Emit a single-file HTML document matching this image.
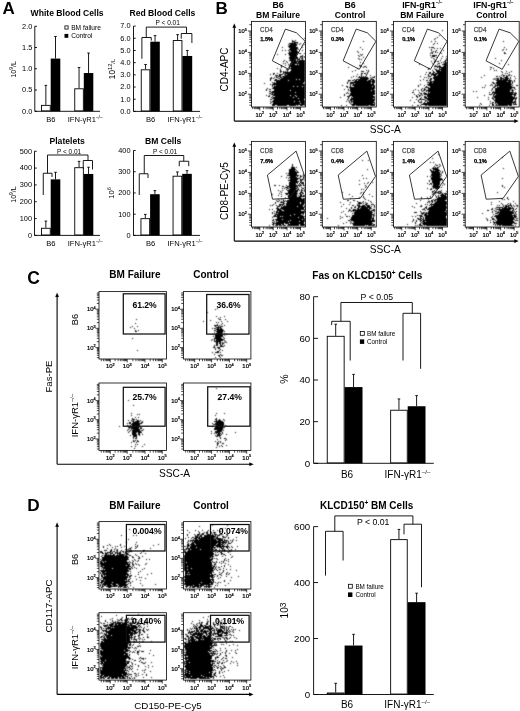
<!DOCTYPE html>
<html><head><meta charset="utf-8"><style>
html,body{margin:0;padding:0;background:#fff;width:520px;height:711px;overflow:hidden}
svg{display:block;opacity:0.999}
text{font-family:"Liberation Sans", sans-serif;fill:#000}
</style></head><body>
<svg width="520" height="711" viewBox="0 0 520 711">
<rect width="520" height="711" fill="#fff"/>
<filter id="bl" filterUnits="userSpaceOnUse" x="0" y="0" width="520" height="711"><feConvolveMatrix order="3" kernelMatrix="0.04 0.11 0.04 0.11 0.4 0.11 0.04 0.11 0.04" preserveAlpha="false"/></filter><path d="M304 38h1M292 40h1M295 40h1M292 41h3M292 42h1M294 42h4M289 43h7M297 43h1M300 43h1M288 44h1M290 44h7M299 44h1M304 44h1M289 45h8M302 45h1M288 46h8M282 47h1M289 47h9M302 47h1M290 48h8M289 49h8M298 49h1M282 50h1M285 50h1M288 50h1M290 50h7M302 50h1M289 51h1M291 51h7M289 52h9M288 53h10M299 53h2M304 53h1M277 54h1M285 54h1M289 54h8M289 55h8M302 55h1M290 56h7M300 56h3M304 56h1M289 57h9M300 57h1M302 57h1M304 57h1M289 58h9M299 58h1M301 58h2M290 59h6M297 59h3M302 59h1M284 60h1M289 60h7M297 60h1M299 60h6M283 61h1M286 61h1M291 61h14M287 62h1M291 62h6M298 62h7M283 63h1M285 63h1M290 63h15M288 64h1M290 64h5M297 64h1M299 64h6M281 65h1M285 65h1M289 65h16M281 66h1M289 66h16M281 67h1M288 67h1M291 67h14M277 68h1M289 68h16M280 69h1M286 69h3M291 69h14M280 70h1M287 70h1M291 70h14M280 71h2M283 71h1M285 71h1M287 71h1M290 71h15M280 72h1M283 72h22M273 73h2M277 73h1M283 73h1M285 73h20M270 74h1M273 74h1M279 74h4M284 74h2M287 74h18M275 75h3M279 75h2M285 75h20M276 76h1M278 76h3M282 76h23M271 77h1M274 77h1M276 77h2M280 77h2M283 77h22M270 78h2M273 78h1M278 78h2M281 78h24M270 79h1M275 79h2M280 79h16M297 79h2M300 79h5M270 80h1M274 80h14M289 80h16M276 81h29M272 82h1M274 82h1M276 82h28M264 83h1M273 83h30M304 83h1M270 84h1M272 84h33M272 85h1M274 85h1M276 85h29M272 86h1M274 86h19M294 86h3M298 86h4M303 86h2M273 87h32M267 88h1M272 88h33M266 89h1M269 89h2M274 89h31M266 90h1M274 90h16M291 90h14M269 91h2M272 91h33M271 92h24M296 92h9M269 93h2M272 93h1M274 93h31M271 94h34M266 95h1M269 95h1M273 95h17M291 95h4M296 95h9M268 96h2M272 96h1M275 96h21M297 96h8M271 97h1M273 97h20M294 97h11M272 98h26M299 98h6M270 99h2M274 99h30M273 100h32M270 101h1M272 101h22M295 101h4M300 101h5M271 102h1M273 102h32M270 103h1M273 103h27M301 103h4M272 104h33M272 105h3M277 105h10M289 105h7M297 105h1M300 105h3M304 105h1M363 41h1M360 47h1M362 49h1M357 51h1M358 52h1M360 54h1M362 54h1M358 55h1M361 55h1M359 56h1M363 57h1M358 58h1M359 59h1M361 59h1M360 62h1M363 63h1M359 65h2M360 66h2M364 66h2M348 67h1M363 67h1M366 67h1M357 68h1M355 70h1M366 70h1M368 70h1M352 71h1M361 71h3M368 71h1M367 72h1M361 73h2M364 73h2M367 73h1M357 74h1M361 74h1M366 74h1M361 75h1M366 75h1M370 75h1M353 76h1M356 76h1M359 76h1M361 76h1M363 76h1M365 76h1M374 76h1M351 77h1M358 77h10M370 77h1M372 77h3M360 78h9M371 78h1M354 79h1M356 79h12M370 79h4M348 80h3M352 80h2M355 80h2M358 80h9M368 80h3M372 80h3M348 81h1M354 81h21M347 82h1M350 82h21M372 82h3M347 83h1M350 83h4M355 83h16M372 83h2M350 84h1M353 84h21M342 85h1M350 85h1M352 85h23M346 86h2M350 86h1M354 86h18M373 86h2M347 87h1M349 87h26M350 88h25M344 89h1M348 89h1M350 89h24M348 90h1M350 90h21M372 90h3M350 91h25M347 92h1M351 92h24M346 93h1M348 93h1M350 93h25M344 94h1M350 94h25M344 95h1M349 95h24M347 96h3M352 96h23M340 97h1M348 97h1M351 97h1M353 97h22M348 98h1M351 98h22M374 98h1M347 99h1M350 99h25M348 100h1M350 100h2M353 100h22M346 101h1M349 101h1M351 101h23M349 102h1M351 102h1M353 102h22M350 103h1M353 103h20M374 103h1M351 104h24M341 105h1M346 105h1M352 105h3M356 105h13M370 105h5M442 30h1M439 35h1M437 37h1M435 38h1M434 39h1M431 41h1M435 41h1M434 43h1M437 43h1M433 44h1M429 47h1M431 47h3M434 48h1M437 48h1M440 48h1M431 49h1M431 50h1M436 50h1M443 50h1M433 51h1M435 51h1M431 52h2M435 52h1M437 52h1M440 52h1M430 53h1M432 53h1M441 53h1M430 55h1M432 55h5M432 56h3M442 56h1M446 56h1M431 57h1M436 57h1M433 58h1M441 58h1M446 58h1M434 59h1M446 59h1M435 60h1M440 60h1M445 60h2M431 61h1M434 61h2M437 61h2M444 61h2M434 62h1M441 62h1M443 62h1M445 62h2M432 63h1M438 63h2M444 63h3M419 64h1M433 64h1M437 64h1M442 64h5M435 65h1M439 65h1M444 65h3M434 66h7M443 66h4M437 67h1M439 67h8M428 68h2M434 68h1M439 68h1M441 68h6M428 69h1M435 69h2M439 69h8M432 70h1M436 70h4M441 70h6M433 71h1M436 71h11M426 72h1M429 72h2M433 72h2M437 72h10M429 73h2M432 73h2M435 73h12M425 74h1M428 74h1M431 74h6M438 74h9M428 75h1M431 75h1M433 75h3M437 75h10M420 76h1M428 76h3M434 76h13M424 77h1M426 77h1M433 77h14M428 78h1M430 78h2M433 78h14M423 79h1M430 79h2M434 79h13M420 80h1M426 80h2M429 80h2M434 80h13M430 81h17M427 82h5M433 82h14M429 83h18M420 84h1M427 84h20M418 85h1M424 85h1M428 85h19M418 86h1M426 86h1M430 86h17M425 87h4M430 87h17M422 88h1M424 88h1M428 88h19M415 89h1M421 89h1M424 89h2M428 89h19M413 90h1M418 90h1M421 90h1M423 90h2M426 90h21M422 91h1M426 91h1M428 91h19M412 92h2M419 92h1M424 92h1M428 92h1M430 92h17M420 93h2M423 93h4M428 93h19M414 94h1M418 94h1M421 94h1M424 94h23M416 95h1M419 95h2M422 95h1M427 95h20M416 96h2M419 96h1M424 96h2M427 96h20M412 97h1M417 97h1M421 97h1M424 97h3M428 97h19M420 98h1M425 98h22M416 99h1M419 99h6M427 99h20M410 100h1M418 100h1M425 100h2M428 100h19M418 101h1M421 101h1M425 101h1M427 101h1M429 101h18M414 102h1M419 102h3M424 102h1M427 102h20M423 103h24M421 104h26M412 105h1M417 105h2M420 105h1M425 105h2M428 105h19M503 41h1M504 47h1M503 49h1M506 49h1M502 50h1M504 52h1M504 53h2M495 58h1M501 60h1M499 63h1M508 64h1M490 67h2M493 68h1M490 69h1M494 70h1M496 70h1M501 71h1M506 71h1M511 71h1M502 72h1M509 72h1M505 73h1M507 73h1M502 74h1M509 74h1M484 75h1M501 75h1M503 75h2M506 75h1M508 75h2M511 75h1M496 76h2M499 76h1M503 76h1M506 76h2M514 76h1M481 77h1M500 77h2M504 77h4M510 77h1M494 78h1M496 78h3M500 78h4M505 78h4M510 78h1M515 78h1M493 79h1M495 79h1M497 79h2M500 79h2M503 79h5M509 79h1M496 80h16M514 80h1M497 81h10M508 81h3M512 81h1M514 81h1M492 82h2M496 82h15M512 82h1M493 83h2M496 83h15M512 83h1M491 84h1M495 84h1M497 84h15M485 85h1M490 85h1M492 85h1M495 85h16M512 85h1M516 85h2M494 86h2M497 86h1M499 86h13M482 87h1M484 87h1M493 87h2M497 87h18M492 88h1M495 88h17M514 88h1M492 89h1M495 89h16M512 89h1M515 89h1M491 90h1M495 90h15M511 90h3M473 91h1M476 91h1M493 91h1M495 91h15M512 91h1M489 92h1M492 92h22M515 92h1M492 93h1M494 93h19M514 93h3M489 94h3M493 94h2M496 94h20M484 95h1M493 95h1M495 95h17M514 95h2M493 96h20M514 96h1M477 97h1M488 97h1M492 97h1M494 97h21M516 97h1M492 98h2M495 98h22M488 99h1M493 99h1M495 99h19M515 99h1M494 100h19M515 100h1M490 101h1M495 101h18M514 101h2M492 102h2M495 102h21M480 103h1M490 103h1M492 103h1M495 103h1M497 103h15M513 103h1M515 103h1M481 104h1M492 104h2M496 104h1M498 104h14M513 104h4M479 105h1M489 105h1M492 105h2M495 105h13M509 105h3M292 164h1M292 165h1M292 166h1M291 167h4M296 167h1M291 168h4M289 169h7M289 170h6M296 170h1M289 171h7M297 171h1M289 172h10M286 173h1M288 173h9M289 174h8M303 174h1M287 175h12M300 175h1M303 175h1M281 176h1M290 176h6M297 176h1M300 176h2M303 176h1M286 177h1M289 177h8M300 177h1M303 177h1M288 178h1M290 178h10M304 178h1M290 179h8M300 179h2M303 179h1M288 180h9M300 180h2M304 180h1M290 181h9M300 181h1M289 182h9M301 182h3M289 183h7M297 183h1M301 183h3M289 184h7M300 184h1M303 184h1M274 185h2M279 185h1M286 185h1M289 185h9M299 185h3M303 185h2M282 186h2M287 186h10M299 186h1M285 187h3M289 187h7M297 187h1M301 187h1M304 187h1M282 188h1M284 188h1M287 188h2M290 188h7M298 188h1M302 188h2M286 189h1M289 189h7M297 189h2M301 189h1M304 189h1M278 190h1M282 190h1M287 190h11M299 190h1M301 190h2M304 190h1M280 191h1M288 191h10M301 191h1M304 191h1M281 192h1M288 192h9M300 192h3M279 193h1M285 193h13M299 193h2M302 193h2M272 194h1M281 194h1M286 194h2M289 194h8M300 194h2M278 195h1M288 195h9M298 195h1M300 195h2M303 195h2M281 196h1M288 196h9M299 196h6M285 197h1M288 197h13M288 198h14M303 198h2M278 199h1M281 199h1M283 199h1M289 199h16M276 200h1M279 200h1M283 200h1M285 200h1M287 200h18M277 201h2M281 201h1M283 201h2M286 201h19M275 202h1M280 202h4M287 202h13M301 202h4M275 203h1M283 203h2M286 203h14M301 203h4M273 204h1M279 204h5M286 204h18M270 205h1M272 205h1M276 205h1M279 205h2M282 205h1M284 205h1M286 205h17M304 205h1M277 206h3M281 206h1M283 206h14M298 206h5M304 206h1M277 207h1M281 207h24M276 208h3M280 208h24M269 209h1M272 209h1M277 209h4M282 209h23M277 210h5M284 210h17M304 210h1M274 211h1M276 211h2M279 211h26M272 212h1M276 212h29M272 213h1M274 213h1M276 213h1M278 213h26M275 214h19M295 214h6M303 214h1M274 215h2M277 215h13M291 215h12M273 216h7M281 216h1M283 216h22M272 217h1M277 217h21M299 217h5M277 218h28M273 219h1M275 219h7M283 219h19M303 219h2M272 220h2M276 220h14M291 220h14M274 221h1M276 221h1M278 221h10M289 221h10M300 221h5M272 222h2M276 222h28M273 223h11M285 223h4M290 223h14M272 224h2M276 224h5M282 224h2M288 224h11M300 224h5M269 225h1M273 225h1M275 225h3M279 225h3M283 225h3M287 225h12M300 225h5M362 160h1M368 160h1M367 169h1M362 175h1M363 178h1M366 178h1M359 180h1M368 182h1M372 182h1M364 183h1M367 183h1M359 184h1M365 185h1M366 186h1M365 187h1M361 189h1M363 189h1M342 192h1M361 192h1M363 192h1M360 193h1M349 194h1M363 194h1M369 194h1M352 196h1M363 196h1M372 196h1M359 197h1M363 197h1M350 198h1M364 198h1M365 199h1M347 200h2M353 200h2M368 200h1M357 201h1M363 201h1M370 201h1M340 202h1M350 202h1M358 202h3M362 202h1M365 202h1M371 202h1M358 203h4M363 203h1M366 203h2M343 204h1M349 204h1M357 204h1M359 204h1M365 204h2M371 204h3M352 205h2M357 205h3M362 205h3M366 205h4M374 205h1M341 206h1M355 206h1M358 206h8M367 206h3M371 206h1M374 206h1M351 207h1M354 207h2M358 207h2M361 207h10M374 207h1M346 208h1M351 208h1M357 208h2M360 208h8M369 208h3M349 209h1M353 209h3M357 209h13M373 209h2M349 210h2M352 210h18M371 210h4M343 211h1M348 211h1M351 211h1M353 211h1M355 211h17M374 211h1M341 212h1M354 212h19M352 213h1M354 213h18M374 213h1M345 214h1M354 214h20M352 215h20M373 215h2M340 216h1M346 216h2M349 216h1M352 216h20M373 216h1M342 217h1M351 217h21M373 217h1M327 218h1M340 218h1M351 218h23M350 219h21M372 219h2M348 220h2M351 220h24M350 221h1M353 221h22M346 222h1M351 222h1M354 222h18M343 223h1M350 223h1M352 223h21M353 224h19M373 224h2M338 225h1M353 225h12M366 225h1M368 225h7M438 154h1M432 158h1M430 162h1M433 162h1M435 164h1M439 164h1M436 165h2M440 165h1M434 166h1M439 166h1M433 167h1M435 167h1M437 167h2M432 168h6M430 169h1M433 169h6M430 170h2M433 170h1M435 170h5M431 171h8M440 171h1M442 171h1M431 172h9M442 172h1M432 173h8M441 173h1M431 174h10M431 175h9M441 175h1M427 176h1M430 176h1M432 176h9M431 177h9M431 178h11M431 179h12M429 180h1M432 180h9M442 180h1M429 181h1M432 181h8M432 182h8M442 182h1M427 183h1M430 183h2M433 183h7M443 183h1M429 184h1M431 184h1M433 184h7M444 184h1M433 185h6M442 185h1M432 186h8M433 187h7M441 187h1M427 188h1M431 188h1M433 188h1M435 188h4M430 189h2M436 189h1M434 190h1M441 190h1M432 191h2M435 191h1M438 191h3M446 191h1M432 192h1M434 192h5M440 192h2M433 193h1M435 193h1M438 193h3M442 193h1M444 193h3M432 194h2M441 194h3M445 194h2M435 195h1M438 195h1M440 195h6M430 196h1M436 196h1M438 196h1M441 196h6M421 197h1M427 197h1M430 197h1M436 197h1M438 197h9M421 198h1M437 198h10M428 199h1M433 199h1M435 199h12M420 200h1M431 200h2M434 200h2M437 200h8M428 201h2M431 201h2M434 201h1M436 201h11M427 202h1M429 202h1M432 202h1M435 202h12M416 203h1M431 203h1M434 203h13M425 204h1M427 204h1M430 204h17M421 205h1M429 205h1M431 205h1M433 205h13M412 206h1M420 206h2M426 206h1M431 206h16M414 207h1M425 207h2M429 207h18M424 208h1M426 208h1M428 208h19M422 209h3M427 209h19M425 210h1M429 210h18M420 211h1M428 211h17M446 211h1M414 212h3M421 212h1M423 212h2M426 212h1M428 212h19M421 213h3M425 213h22M422 214h1M424 214h3M428 214h19M417 215h1M419 215h3M424 215h23M412 216h1M415 216h1M420 216h3M425 216h21M420 217h1M423 217h1M425 217h21M417 218h2M420 218h2M423 218h1M425 218h22M413 219h1M418 219h3M422 219h2M425 219h22M413 220h1M416 220h1M420 220h2M423 220h24M412 221h1M416 221h1M420 221h1M422 221h3M426 221h21M415 222h1M421 222h1M423 222h24M415 223h1M420 223h1M422 223h25M407 224h1M419 224h2M423 224h24M415 225h1M417 225h1M419 225h4M424 225h1M426 225h21M502 157h1M503 168h1M502 178h1M502 185h1M502 186h1M504 187h1M497 192h1M507 197h1M501 198h1M507 198h1M502 199h1M504 199h1M508 199h1M499 201h1M513 201h1M491 202h1M501 203h1M508 203h1M510 203h1M515 203h1M491 204h1M502 204h1M507 204h1M510 204h1M497 205h1M499 205h1M503 205h1M505 205h2M508 205h4M513 205h1M516 205h2M503 206h1M505 206h4M511 206h1M514 206h1M517 206h1M496 207h7M504 207h3M508 207h3M512 207h1M492 208h1M495 208h1M499 208h1M502 208h12M516 208h1M491 209h2M496 209h15M513 209h1M515 209h1M487 210h2M494 210h1M499 210h11M512 210h2M492 211h1M495 211h2M498 211h1M500 211h13M514 211h1M516 211h1M492 212h1M497 212h17M515 212h1M482 213h1M495 213h3M499 213h15M515 213h1M493 214h1M498 214h14M514 214h1M516 214h1M495 215h21M492 216h1M494 216h19M514 216h3M491 217h1M496 217h20M486 218h1M492 218h2M496 218h18M516 218h2M487 219h1M492 219h3M497 219h18M487 220h1M490 220h1M495 220h1M497 220h16M515 220h3M493 221h1M496 221h18M490 222h1M493 222h22M494 223h1M496 223h17M514 223h3M493 224h1M495 224h1M497 224h15M495 225h1M497 225h1M499 225h2M502 225h12M515 225h1M136 319h1M135 323h1M132 326h1M137 326h1M130 327h1M134 328h1M135 330h1M138 330h1M135 331h2M132 338h1M137 350h1M217 308h1M215 309h1M207 312h1M216 316h1M224 316h1M220 317h1M218 318h1M219 319h2M225 319h1M210 320h1M203 321h1M221 321h1M227 321h1M216 322h1M218 322h1M222 323h1M217 324h1M221 324h1M214 325h4M219 325h1M224 325h1M215 326h1M218 326h1M220 326h3M216 327h5M212 328h1M214 328h2M217 328h2M220 328h2M216 329h7M214 330h2M217 330h7M216 331h7M224 331h1M214 332h1M217 332h6M216 333h6M224 333h1M213 334h1M215 334h8M226 334h1M215 335h8M224 335h1M213 336h1M215 336h8M215 337h6M223 337h1M214 338h8M224 338h1M212 339h1M214 339h1M216 339h8M211 340h1M214 340h1M216 340h7M224 340h1M214 341h7M225 341h1M216 342h2M219 342h2M222 342h1M224 342h1M226 342h1M216 343h2M219 343h2M222 343h2M216 344h2M220 344h1M222 344h1M214 345h1M216 345h2M220 345h2M224 345h1M214 346h1M220 346h4M213 347h2M217 347h3M215 348h1M218 348h2M215 349h1M220 349h1M219 350h1M222 350h1M217 351h2M212 352h1M215 352h4M220 352h1M214 354h1M220 354h1M218 355h2M221 355h2M219 356h1M215 357h1M220 357h1M128 400h1M133 405h1M131 413h1M137 414h1M139 414h1M131 415h1M135 417h1M138 417h1M132 418h1M132 419h3M136 419h1M128 420h1M131 420h1M133 420h1M137 420h2M140 420h1M132 421h2M135 421h5M142 421h1M129 422h2M133 422h6M141 422h2M127 423h1M129 423h2M132 423h10M131 424h9M127 425h1M130 425h1M132 425h8M119 426h1M128 426h1M130 426h1M132 426h8M128 427h11M140 427h2M129 428h1M131 428h8M140 428h2M128 429h1M131 429h1M133 429h7M143 429h1M127 430h1M130 430h1M132 430h8M141 430h2M129 431h1M132 431h9M128 432h1M132 432h5M138 432h4M132 433h4M138 433h2M132 434h5M138 434h2M142 434h1M130 435h1M133 435h4M139 435h1M133 436h4M133 437h1M136 437h1M133 438h1M135 438h2M133 440h1M135 440h1M137 440h1M133 441h2M137 441h2M131 442h1M136 442h1M135 444h1M137 444h1M144 444h1M131 446h1M135 446h1M142 446h1M134 448h1M216 388h1M219 398h1M218 399h1M216 413h1M224 413h1M215 415h1M216 418h1M215 419h2M219 419h1M223 419h1M216 420h1M218 420h3M224 420h1M214 421h9M216 422h8M212 423h1M215 423h9M213 424h11M216 425h8M225 425h1M212 426h1M215 426h8M215 427h10M214 428h9M214 429h9M217 430h5M223 430h1M211 431h1M215 431h7M215 432h5M222 432h1M235 432h1M211 433h1M214 433h1M216 433h1M218 433h3M222 433h1M217 434h3M221 434h1M226 434h1M215 435h1M217 435h4M216 436h2M219 436h1M220 437h1M220 438h1M224 438h2M217 439h1M226 439h1M225 440h1M215 441h1M218 441h1M220 441h1M217 442h1M220 442h1M217 443h2M222 443h2M217 444h1M217 445h1M221 445h1M226 445h1M219 446h1M222 446h1M216 447h1M129 529h1M139 532h1M154 533h1M121 535h1M133 535h1M136 535h1M128 539h1M126 542h1M136 542h1M109 544h1M120 544h1M135 544h1M158 544h1M107 545h1M110 545h1M120 545h1M137 545h1M153 545h1M103 546h1M115 546h1M117 546h1M124 546h1M135 546h1M137 546h1M103 547h1M112 547h1M121 547h1M131 547h1M136 547h1M107 548h1M115 548h1M129 548h2M135 548h1M150 548h1M111 549h1M114 549h1M117 549h1M125 549h1M127 549h2M130 549h1M104 550h3M110 550h2M116 550h2M121 550h1M129 550h1M131 550h1M143 550h2M100 551h2M110 551h2M113 551h2M117 551h1M120 551h1M122 551h2M125 551h3M129 551h3M143 551h1M100 552h3M105 552h1M107 552h4M112 552h1M115 552h3M119 552h2M123 552h1M125 552h2M128 552h1M141 552h1M102 553h2M105 553h3M110 553h3M115 553h1M117 553h4M125 553h3M140 553h1M145 553h1M105 554h2M108 554h1M110 554h1M113 554h2M117 554h1M119 554h6M126 554h3M135 554h1M102 555h1M104 555h11M116 555h8M125 555h2M129 555h2M136 555h1M101 556h1M104 556h24M132 556h1M138 556h1M142 556h1M102 557h27M132 557h2M139 557h1M102 558h26M138 558h2M100 559h1M102 559h27M134 559h1M146 559h1M149 559h1M101 560h26M132 560h1M135 560h1M138 560h1M100 561h2M103 561h2M106 561h21M129 561h1M133 561h1M137 561h1M100 562h3M104 562h25M130 562h1M132 562h1M100 563h28M129 563h1M132 563h1M135 563h1M146 563h1M100 564h30M132 564h2M136 564h1M138 564h1M145 564h1M101 565h25M127 565h3M133 565h1M139 565h1M100 566h3M104 566h27M132 566h1M102 567h27M131 567h1M134 567h1M101 568h1M103 568h9M113 568h18M132 568h1M136 568h1M144 568h1M103 569h1M105 569h23M129 569h2M142 569h1M100 570h29M101 571h28M130 571h1M140 571h1M100 572h1M102 572h3M106 572h21M138 572h1M100 573h1M102 573h26M130 573h1M151 573h1M101 574h1M103 574h26M138 574h1M147 574h1M101 575h2M104 575h1M106 575h20M127 575h2M130 575h2M101 576h2M104 576h24M129 576h2M135 576h1M102 577h26M129 577h1M139 577h1M141 577h1M101 578h1M103 578h24M130 578h1M145 578h1M100 579h1M103 579h24M128 579h2M136 579h1M101 580h3M105 580h20M126 580h1M128 580h1M140 580h1M101 581h29M132 581h1M100 582h3M104 582h8M113 582h14M130 582h1M101 583h1M103 583h23M128 583h1M130 583h1M140 583h1M100 584h1M102 584h9M112 584h4M118 584h10M155 584h1M100 585h1M102 585h1M104 585h2M107 585h5M113 585h5M119 585h8M130 585h1M142 585h1M100 586h1M102 586h2M106 586h11M118 586h5M124 586h2M127 586h1M101 587h2M108 587h3M118 587h1M120 587h1M123 587h4M128 587h1M133 587h1M212 525h1M227 525h1M199 526h1M222 528h1M225 528h1M222 529h1M187 530h1M195 530h1M202 530h1M208 530h1M213 530h1M217 530h1M198 531h1M207 531h1M219 531h2M222 531h1M232 531h1M189 532h1M199 532h1M204 532h1M206 532h2M210 532h2M213 532h3M199 533h1M202 533h2M206 533h2M211 533h1M214 533h1M187 534h1M194 534h1M197 534h3M201 534h3M207 534h3M212 534h1M214 534h3M219 534h4M226 534h2M187 535h1M195 535h1M197 535h2M200 535h2M204 535h10M215 535h1M217 535h3M227 535h1M195 536h3M199 536h3M204 536h12M217 536h1M222 536h2M226 536h1M188 537h1M192 537h2M195 537h5M201 537h14M216 537h2M223 537h3M228 537h1M236 537h1M185 538h1M191 538h1M194 538h3M198 538h16M215 538h6M222 538h1M228 538h1M193 539h1M195 539h3M199 539h17M217 539h6M224 539h1M233 539h1M188 540h1M190 540h27M218 540h5M224 540h4M230 540h1M232 540h1M236 540h1M188 541h1M190 541h1M192 541h1M194 541h27M222 541h3M226 541h1M228 541h1M232 541h1M187 542h1M192 542h35M228 542h1M231 542h1M188 543h1M191 543h3M195 543h22M218 543h3M222 543h2M225 543h1M228 543h3M187 544h2M190 544h5M196 544h20M217 544h6M224 544h1M227 544h1M187 545h3M191 545h30M222 545h2M227 545h1M184 546h2M187 546h2M190 546h24M216 546h13M231 546h1M237 546h1M187 547h1M190 547h6M197 547h19M217 547h1M219 547h3M223 547h1M226 547h2M229 547h1M232 547h1M186 548h27M214 548h1M221 548h3M227 548h1M184 549h3M188 549h2M191 549h9M201 549h13M215 549h2M219 549h1M222 549h1M224 549h1M228 549h1M231 549h1M235 549h1M184 550h1M188 550h25M214 550h3M219 550h1M222 550h4M229 550h1M231 550h1M184 551h2M187 551h27M218 551h2M221 551h1M224 551h1M227 551h1M229 551h2M184 552h29M215 552h1M217 552h1M220 552h2M228 552h1M185 553h29M221 553h2M185 554h29M215 554h1M218 554h1M221 554h1M223 554h2M230 554h1M184 555h29M215 555h3M225 555h1M184 556h30M222 556h1M232 556h1M184 557h27M212 557h1M231 557h1M184 558h26M211 558h2M214 558h1M216 558h1M225 558h1M184 559h29M217 559h1M224 559h1M228 559h1M184 560h28M224 560h1M226 560h1M184 561h27M212 561h1M216 561h1M221 561h1M223 561h1M228 561h1M184 562h2M187 562h25M213 562h2M216 562h1M219 562h1M223 562h1M184 563h28M215 563h1M221 563h1M225 563h1M184 564h28M214 564h2M228 564h1M184 565h29M214 565h1M224 565h1M184 566h3M188 566h24M213 566h2M216 566h1M221 566h1M224 566h1M230 566h1M184 567h30M215 567h1M218 567h2M184 568h7M192 568h22M215 568h1M223 568h1M184 569h3M188 569h25M214 569h1M216 569h1M219 569h2M226 569h1M230 569h1M184 570h30M217 570h1M223 570h1M236 570h1M185 571h28M223 571h1M185 572h3M189 572h23M213 572h1M219 572h1M222 572h1M227 572h1M185 573h27M221 573h1M226 573h1M229 573h1M185 574h2M188 574h1M190 574h20M211 574h2M214 574h2M219 574h2M226 574h1M228 574h1M185 575h29M217 575h1M221 575h1M184 576h29M214 576h1M217 576h1M226 576h1M238 576h1M184 577h26M211 577h3M220 577h1M231 577h1M185 578h25M212 578h1M218 578h1M184 579h30M184 580h27M212 580h2M224 580h1M230 580h1M184 581h28M213 581h1M224 581h1M185 582h16M202 582h12M215 582h1M218 582h1M220 582h1M184 583h26M211 583h2M217 583h1M228 583h1M184 584h15M200 584h13M186 585h7M194 585h10M206 585h1M208 585h2M215 585h1M217 585h1M225 585h1M185 586h3M190 586h1M192 586h7M200 586h2M204 586h8M186 587h1M189 587h2M192 587h3M197 587h4M204 587h1M206 587h1M208 587h2M214 587h1M138 614h1M116 615h1M142 615h1M101 616h1M122 617h1M132 617h1M112 618h1M121 618h1M127 618h2M131 618h1M149 618h1M110 619h1M117 619h1M120 619h2M125 619h3M129 619h1M131 619h3M135 619h2M105 620h1M112 620h1M118 620h2M121 620h2M124 620h4M139 620h1M141 620h1M145 620h1M105 621h1M112 621h1M115 621h1M117 621h1M125 621h2M128 621h1M132 621h2M138 621h1M140 621h1M145 621h1M100 622h1M107 622h1M110 622h1M113 622h3M117 622h6M124 622h5M130 622h1M132 622h3M136 622h1M138 622h1M144 622h1M147 622h1M101 623h1M103 623h2M111 623h3M115 623h6M122 623h5M129 623h4M137 623h3M144 623h1M107 624h1M109 624h5M115 624h2M118 624h11M130 624h2M136 624h2M140 624h1M143 624h2M147 624h1M103 625h5M109 625h4M114 625h13M128 625h8M138 625h2M100 626h1M104 626h3M108 626h1M110 626h20M131 626h6M138 626h1M140 626h1M147 626h1M100 627h2M107 627h4M112 627h1M114 627h24M139 627h1M141 627h1M144 627h1M101 628h1M103 628h1M105 628h32M143 628h1M101 629h1M106 629h1M108 629h1M110 629h24M136 629h5M143 629h1M146 629h1M148 629h1M102 630h5M109 630h28M139 630h2M142 630h2M147 630h1M103 631h1M105 631h26M132 631h4M138 631h2M143 631h2M101 632h1M106 632h27M134 632h4M139 632h2M144 632h1M100 633h1M102 633h1M104 633h1M106 633h1M108 633h29M139 633h1M104 634h3M108 634h21M130 634h3M134 634h1M139 634h1M141 634h2M147 634h1M103 635h1M105 635h6M112 635h21M138 635h2M101 636h2M104 636h1M106 636h24M131 636h1M134 636h2M138 636h1M147 636h1M100 637h2M103 637h2M106 637h27M134 637h1M139 637h1M143 637h1M147 637h2M104 638h2M107 638h23M131 638h1M134 638h1M138 638h1M140 638h1M101 639h29M131 639h1M133 639h4M139 639h1M142 639h1M144 639h1M103 640h27M136 640h1M101 641h2M104 641h27M133 641h2M136 641h1M139 641h1M142 641h2M151 641h1M101 642h30M134 642h1M100 643h29M130 643h1M139 643h1M100 644h28M129 644h2M133 644h1M100 645h28M129 645h2M132 645h1M139 645h1M100 646h28M137 646h2M140 646h1M101 647h30M132 647h1M135 647h1M100 648h27M128 648h2M134 648h1M136 648h1M102 649h26M100 650h2M103 650h21M125 650h5M135 650h1M139 650h1M150 650h1M100 651h28M130 651h1M133 651h1M137 651h2M141 651h3M100 652h26M129 652h1M132 652h1M134 652h1M137 652h2M100 653h28M137 653h1M149 653h1M100 654h24M125 654h3M129 654h1M138 654h1M101 655h27M129 655h1M153 655h1M100 656h1M102 656h27M100 657h30M140 657h1M100 658h27M128 658h3M139 658h1M141 658h3M145 658h1M100 659h26M129 659h1M132 659h1M143 659h1M101 660h4M106 660h20M134 660h2M140 660h1M100 661h30M139 661h1M101 662h2M104 662h22M127 662h2M131 662h1M141 662h2M145 662h1M151 662h1M100 663h29M132 663h1M143 663h2M101 664h1M103 664h24M132 664h1M135 664h1M102 665h25M130 665h1M138 665h1M148 665h1M103 666h23M127 666h1M129 666h1M131 666h2M138 666h1M145 666h1M152 666h1M100 667h25M126 667h1M128 667h2M148 667h1M100 668h1M102 668h24M127 668h1M130 668h1M132 668h1M100 669h1M102 669h22M125 669h1M129 669h1M131 669h1M137 669h1M145 669h1M100 670h28M142 670h1M144 670h1M100 671h25M128 671h1M132 671h1M150 671h1M100 672h27M144 672h1M100 673h27M128 673h1M134 673h2M138 673h1M101 674h21M123 674h5M129 674h3M136 674h1M142 674h1M146 674h1M100 675h3M104 675h22M128 675h1M135 675h1M138 675h1M146 675h1M100 676h2M103 676h5M109 676h15M125 676h3M131 676h1M136 676h1M100 677h4M105 677h1M108 677h2M111 677h7M119 677h2M122 677h3M127 677h1M129 677h1M134 677h1M143 677h1M151 677h1M100 678h2M103 678h2M107 678h3M111 678h3M115 678h3M119 678h7M127 678h1M129 678h2M132 678h1M134 678h1M208 616h1M203 617h1M207 619h1M217 619h1M233 619h1M199 620h1M221 620h1M224 620h1M228 620h1M236 620h1M192 621h1M207 621h2M217 621h1M219 621h1M229 621h1M199 622h1M201 622h2M207 622h1M213 622h1M220 622h2M223 622h1M191 623h1M197 623h1M199 623h1M201 623h1M206 623h2M213 623h1M218 623h1M221 623h1M224 623h1M226 623h1M233 623h1M193 624h1M196 624h1M200 624h2M206 624h2M213 624h3M217 624h2M220 624h1M222 624h1M224 624h1M194 625h1M197 625h1M200 625h3M204 625h2M209 625h1M214 625h1M217 625h1M220 625h1M193 626h1M195 626h2M199 626h5M205 626h7M214 626h1M220 626h5M226 626h1M229 626h2M194 627h1M196 627h1M198 627h3M203 627h6M210 627h1M212 627h1M215 627h1M220 627h3M224 627h1M226 627h1M228 627h1M232 627h1M190 628h1M192 628h1M194 628h4M199 628h2M203 628h11M216 628h2M220 628h1M222 628h3M226 628h1M228 628h1M187 629h1M191 629h1M196 629h2M199 629h1M201 629h3M208 629h4M214 629h1M216 629h1M218 629h4M224 629h1M226 629h1M228 629h1M231 629h1M233 629h1M235 629h1M187 630h1M189 630h1M194 630h1M196 630h3M200 630h3M204 630h2M207 630h1M209 630h2M212 630h3M216 630h7M224 630h1M226 630h2M229 630h1M233 630h1M239 630h1M189 631h1M191 631h4M196 631h3M200 631h9M210 631h2M214 631h1M217 631h7M226 631h1M228 631h1M230 631h1M232 631h1M188 632h5M195 632h2M198 632h2M201 632h1M203 632h4M209 632h3M214 632h1M217 632h4M222 632h6M229 632h1M233 632h1M188 633h1M190 633h1M193 633h11M205 633h2M208 633h4M213 633h6M221 633h2M224 633h4M185 634h2M190 634h13M206 634h2M209 634h2M212 634h2M215 634h1M217 634h5M226 634h1M229 634h2M187 635h1M192 635h3M197 635h5M203 635h2M206 635h1M208 635h4M213 635h1M218 635h5M224 635h4M231 635h1M233 635h1M186 636h3M190 636h3M194 636h4M199 636h7M207 636h4M215 636h7M188 637h1M190 637h4M195 637h7M203 637h8M212 637h1M222 637h2M225 637h2M230 637h1M234 637h1M184 638h2M188 638h2M191 638h3M196 638h16M213 638h3M217 638h4M224 638h1M226 638h2M229 638h1M236 638h1M185 639h2M188 639h1M190 639h6M198 639h3M202 639h1M204 639h7M212 639h1M214 639h2M217 639h1M220 639h1M224 639h1M227 639h1M188 640h7M196 640h1M198 640h16M218 640h1M225 640h1M186 641h1M188 641h2M191 641h21M225 641h2M230 641h1M232 641h1M184 642h2M188 642h26M216 642h1M220 642h1M222 642h1M184 643h29M214 643h2M226 643h1M185 644h27M214 644h1M216 644h1M221 644h1M223 644h1M233 644h1M184 645h33M229 645h1M237 645h1M184 646h26M211 646h2M184 647h28M213 647h1M185 648h27M220 648h1M225 648h1M185 649h25M213 649h1M215 649h1M237 649h1M184 650h1M186 650h26M216 650h1M220 650h1M226 650h1M231 650h1M235 650h1M186 651h22M209 651h2M212 651h4M217 651h1M226 651h1M184 652h25M211 652h1M213 652h1M222 652h1M225 652h1M235 652h1M186 653h30M217 653h1M220 653h1M225 653h1M229 653h1M236 653h1M184 654h26M212 654h1M214 654h1M216 654h1M220 654h1M184 655h30M219 655h1M225 655h2M185 656h1M188 656h24M217 656h1M226 656h1M185 657h27M215 657h4M223 657h1M232 657h1M184 658h28M215 658h1M222 658h1M225 658h2M185 659h2M188 659h23M215 659h1M221 659h1M186 660h28M217 660h1M223 660h1M227 660h1M184 661h32M219 661h1M226 661h1M231 661h1M236 661h1M184 662h1M186 662h3M190 662h21M212 662h1M217 662h1M219 662h1M222 662h1M224 662h1M233 662h1M184 663h27M212 663h3M217 663h2M221 663h2M230 663h1M237 663h1M184 664h1M186 664h27M185 665h28M214 665h2M218 665h1M223 665h1M237 665h1M184 666h28M213 666h1M216 666h1M220 666h1M224 666h1M185 667h28M214 667h1M217 667h2M221 667h1M224 667h2M186 668h27M217 668h1M220 668h1M222 668h2M185 669h28M214 669h1M221 669h1M184 670h2M187 670h27M215 670h1M221 670h1M228 670h1M185 671h4M190 671h22M219 671h1M224 671h1M184 672h2M187 672h22M210 672h3M215 672h1M219 672h1M222 672h1M185 673h4M190 673h22M214 673h2M219 673h1M184 674h28M213 674h2M184 675h17M202 675h10M214 675h2M223 675h1M184 676h1M186 676h5M192 676h11M204 676h10M216 676h1M220 676h1M184 677h22M207 677h2M210 677h2M213 677h1M224 677h1M185 678h1M188 678h1M190 678h7M199 678h11M213 678h1" stroke="#000" stroke-width="1" transform="translate(0 0.5)" filter="url(#bl)"/>
<text x="2.6" y="13.9" font-size="17" font-weight="bold">A</text>
<text x="30.6" y="15.6" font-size="8.6" font-weight="bold">White Blood Cells</text>
<path d="M34.8 26.25L34.8 111.3" stroke="#000" stroke-width="0.9"/>
<path d="M34.8 111.3L100 111.3" stroke="#000" stroke-width="0.9"/>
<path d="M34.8 26.25L37 26.25" stroke="#000" stroke-width="0.9"/>
<text transform="translate(32.3 28.63) scale(1.12 1)" font-size="6.6" text-anchor="end">2.0</text>
<path d="M34.8 47.51L37 47.51" stroke="#000" stroke-width="0.9"/>
<text transform="translate(32.3 49.89) scale(1.12 1)" font-size="6.6" text-anchor="end">1.5</text>
<path d="M34.8 68.78L37 68.78" stroke="#000" stroke-width="0.9"/>
<text transform="translate(32.3 71.15) scale(1.12 1)" font-size="6.6" text-anchor="end">1.0</text>
<path d="M34.8 90.04L37 90.04" stroke="#000" stroke-width="0.9"/>
<text transform="translate(32.3 92.41) scale(1.12 1)" font-size="6.6" text-anchor="end">0.5</text>
<path d="M34.8 111.3L37 111.3" stroke="#000" stroke-width="0.9"/>
<text transform="translate(32.3 113.68) scale(1.12 1)" font-size="6.6" text-anchor="end">0.0</text>
<path d="M45.85 85.36L45.85 104.92" stroke="#000" stroke-width="0.9"/>
<path d="M44.55 85.36L47.15 85.36" stroke="#000" stroke-width="0.9"/>
<rect x="41.45" y="105.37" width="8.8" height="5.48" fill="#fff" stroke="#000" stroke-width="0.9"/>
<path d="M55.5 36.46L55.5 58.57" stroke="#000" stroke-width="0.9"/>
<path d="M54.2 36.46L56.8 36.46" stroke="#000" stroke-width="0.9"/>
<rect x="50.7" y="58.57" width="9.6" height="52.73" fill="#000"/>
<path d="M79.05 67.5L79.05 88.34" stroke="#000" stroke-width="0.9"/>
<path d="M77.75 67.5L80.35 67.5" stroke="#000" stroke-width="0.9"/>
<rect x="74.75" y="88.79" width="8.6" height="22.06" fill="#fff" stroke="#000" stroke-width="0.9"/>
<path d="M88.55 53.04L88.55 73.03" stroke="#000" stroke-width="0.9"/>
<path d="M87.25 53.04L89.85 53.04" stroke="#000" stroke-width="0.9"/>
<rect x="83.8" y="73.03" width="9.5" height="38.27" fill="#000"/>
<rect x="64.9" y="25.9" width="3.2" height="3.2" fill="#fff" stroke="#000" stroke-width="0.8"/>
<rect x="64.5" y="33.9" width="3.8" height="3.9" fill="#000"/>
<text x="71.2" y="29.6" font-size="6.6">BM failure</text>
<text x="71.2" y="38.2" font-size="6.6">Control</text>
<text x="46.2" y="121.8" font-size="7.6">B6</text>
<text x="67.7" y="121.8" font-size="7.6">IFN-γR1<tspan font-size="4.71" dy="-2.89">–/–</tspan></text>
<text transform="translate(15.6 69.4) rotate(-90)" font-size="7" text-anchor="middle">10<tspan font-size="70%" dy="-2.6">9</tspan><tspan dy="2.6">/L</tspan></text>
<text x="129.5" y="15.5" font-size="8.6" font-weight="bold">Red Blood Cells</text>
<path d="M133.5 26.1L133.5 111.4" stroke="#000" stroke-width="0.9"/>
<path d="M133.5 111.4L200 111.4" stroke="#000" stroke-width="0.9"/>
<path d="M133.5 26.1L135.7 26.1" stroke="#000" stroke-width="0.9"/>
<text transform="translate(130.5 28.48) scale(1.12 1)" font-size="6.6" text-anchor="end">7.0</text>
<path d="M133.5 38.29L135.7 38.29" stroke="#000" stroke-width="0.9"/>
<text transform="translate(130.5 40.66) scale(1.12 1)" font-size="6.6" text-anchor="end">6.0</text>
<path d="M133.5 50.47L135.7 50.47" stroke="#000" stroke-width="0.9"/>
<text transform="translate(130.5 52.85) scale(1.12 1)" font-size="6.6" text-anchor="end">5.0</text>
<path d="M133.5 62.66L135.7 62.66" stroke="#000" stroke-width="0.9"/>
<text transform="translate(130.5 65.03) scale(1.12 1)" font-size="6.6" text-anchor="end">4.0</text>
<path d="M133.5 74.84L135.7 74.84" stroke="#000" stroke-width="0.9"/>
<text transform="translate(130.5 77.22) scale(1.12 1)" font-size="6.6" text-anchor="end">3.0</text>
<path d="M133.5 87.03L135.7 87.03" stroke="#000" stroke-width="0.9"/>
<text transform="translate(130.5 89.4) scale(1.12 1)" font-size="6.6" text-anchor="end">2.0</text>
<path d="M133.5 99.21L135.7 99.21" stroke="#000" stroke-width="0.9"/>
<text transform="translate(130.5 101.59) scale(1.12 1)" font-size="6.6" text-anchor="end">1.0</text>
<path d="M133.5 111.4L135.7 111.4" stroke="#000" stroke-width="0.9"/>
<text transform="translate(130.5 113.78) scale(1.12 1)" font-size="6.6" text-anchor="end">0.0</text>
<path d="M145.55 64.48L145.55 69.36" stroke="#000" stroke-width="0.9"/>
<path d="M144.25 64.48L146.85 64.48" stroke="#000" stroke-width="0.9"/>
<rect x="141.25" y="69.81" width="8.6" height="41.14" fill="#fff" stroke="#000" stroke-width="0.9"/>
<path d="M155.05 35.6L155.05 41.7" stroke="#000" stroke-width="0.9"/>
<path d="M153.75 35.6L156.35 35.6" stroke="#000" stroke-width="0.9"/>
<rect x="150.3" y="41.7" width="9.5" height="69.7" fill="#000"/>
<path d="M177.6 34.63L177.6 40.11" stroke="#000" stroke-width="0.9"/>
<path d="M176.3 34.63L178.9 34.63" stroke="#000" stroke-width="0.9"/>
<rect x="173.25" y="40.56" width="8.7" height="70.39" fill="#fff" stroke="#000" stroke-width="0.9"/>
<path d="M187.3 50.47L187.3 55.96" stroke="#000" stroke-width="0.9"/>
<path d="M186 50.47L188.6 50.47" stroke="#000" stroke-width="0.9"/>
<rect x="182.4" y="55.96" width="9.8" height="55.45" fill="#000"/>
<text x="155.5" y="25.4" font-size="6.5">P &lt; 0.01</text>
<path d="M146.25 37.5L146.25 27.1L186.5 27.1L186.5 33.5" stroke="#000" stroke-width="0.9" fill="none"/>
<path d="M141.9 58.75L141.9 37.5L151.25 37.5L151.25 40.6" stroke="#000" stroke-width="0.9" fill="none"/>
<path d="M181.25 38.75L181.25 33.5L191.9 33.5L191.9 43" stroke="#000" stroke-width="0.9" fill="none"/>
<text x="146" y="121.8" font-size="7.6">B6</text>
<text x="167.5" y="121.8" font-size="7.6">IFN-γR1<tspan font-size="4.71" dy="-2.89">–/–</tspan></text>
<text transform="translate(114.8 69) rotate(-90)" font-size="8.2" text-anchor="middle">10<tspan font-size="70%" dy="-3">12</tspan><tspan font-size="70%" dy="3">/L</tspan></text>
<text x="49.5" y="143.75" font-size="8.6" font-weight="bold">Platelets</text>
<path d="M34.5 151.25L34.5 235.4" stroke="#000" stroke-width="0.9"/>
<path d="M34.5 235.4L100 235.4" stroke="#000" stroke-width="0.9"/>
<path d="M34.5 151.25L36.7 151.25" stroke="#000" stroke-width="0.9"/>
<text transform="translate(32 153.63) scale(1.12 1)" font-size="6.6" text-anchor="end">500</text>
<path d="M34.5 168.08L36.7 168.08" stroke="#000" stroke-width="0.9"/>
<text transform="translate(32 170.46) scale(1.12 1)" font-size="6.6" text-anchor="end">400</text>
<path d="M34.5 184.91L36.7 184.91" stroke="#000" stroke-width="0.9"/>
<text transform="translate(32 187.29) scale(1.12 1)" font-size="6.6" text-anchor="end">300</text>
<path d="M34.5 201.74L36.7 201.74" stroke="#000" stroke-width="0.9"/>
<text transform="translate(32 204.12) scale(1.12 1)" font-size="6.6" text-anchor="end">200</text>
<path d="M34.5 218.57L36.7 218.57" stroke="#000" stroke-width="0.9"/>
<text transform="translate(32 220.95) scale(1.12 1)" font-size="6.6" text-anchor="end">100</text>
<path d="M34.5 235.4L36.7 235.4" stroke="#000" stroke-width="0.9"/>
<text transform="translate(32 237.78) scale(1.12 1)" font-size="6.6" text-anchor="end">0</text>
<path d="M45.85 221.09L45.85 227.83" stroke="#000" stroke-width="0.9"/>
<path d="M44.55 221.09L47.15 221.09" stroke="#000" stroke-width="0.9"/>
<rect x="41.45" y="228.28" width="8.8" height="6.67" fill="#fff" stroke="#000" stroke-width="0.9"/>
<path d="M55.5 172.29L55.5 179.36" stroke="#000" stroke-width="0.9"/>
<path d="M54.2 172.29L56.8 172.29" stroke="#000" stroke-width="0.9"/>
<rect x="50.7" y="179.36" width="9.6" height="56.04" fill="#000"/>
<path d="M79.05 161.35L79.05 167.24" stroke="#000" stroke-width="0.9"/>
<path d="M77.75 161.35L80.35 161.35" stroke="#000" stroke-width="0.9"/>
<rect x="74.75" y="167.69" width="8.6" height="67.26" fill="#fff" stroke="#000" stroke-width="0.9"/>
<path d="M88.55 167.24L88.55 173.97" stroke="#000" stroke-width="0.9"/>
<path d="M87.25 167.24L89.85 167.24" stroke="#000" stroke-width="0.9"/>
<rect x="83.8" y="173.97" width="9.5" height="61.43" fill="#000"/>
<text x="56.9" y="153.7" font-size="6.5">P &lt; 0.01</text>
<path d="M47.5 173.25L47.5 155L88 155L88 160.5" stroke="#000" stroke-width="0.9" fill="none"/>
<path d="M43.25 195L43.25 173.25L52 173.25L52 177" stroke="#000" stroke-width="0.9" fill="none"/>
<path d="M83.25 168.75L83.25 160.5L92.5 160.5L92.5 169.5" stroke="#000" stroke-width="0.9" fill="none"/>
<text x="46.2" y="246" font-size="7.6">B6</text>
<text x="67.7" y="246" font-size="7.6">IFN-γR1<tspan font-size="4.71" dy="-2.89">–/–</tspan></text>
<text transform="translate(15.6 194.5) rotate(-90)" font-size="7" text-anchor="middle">10<tspan font-size="70%" dy="-2.6">9</tspan><tspan dy="2.6">/L</tspan></text>
<text x="145" y="143.7" font-size="8.6" font-weight="bold">BM Cells</text>
<path d="M133.5 150.5L133.5 235.4" stroke="#000" stroke-width="0.9"/>
<path d="M133.5 235.4L200 235.4" stroke="#000" stroke-width="0.9"/>
<path d="M133.5 150.5L135.7 150.5" stroke="#000" stroke-width="0.9"/>
<text transform="translate(130.5 152.88) scale(1.12 1)" font-size="6.6" text-anchor="end">400</text>
<path d="M133.5 171.72L135.7 171.72" stroke="#000" stroke-width="0.9"/>
<text transform="translate(130.5 174.1) scale(1.12 1)" font-size="6.6" text-anchor="end">300</text>
<path d="M133.5 192.95L135.7 192.95" stroke="#000" stroke-width="0.9"/>
<text transform="translate(130.5 195.33) scale(1.12 1)" font-size="6.6" text-anchor="end">200</text>
<path d="M133.5 214.18L135.7 214.18" stroke="#000" stroke-width="0.9"/>
<text transform="translate(130.5 216.55) scale(1.12 1)" font-size="6.6" text-anchor="end">100</text>
<path d="M133.5 235.4L135.7 235.4" stroke="#000" stroke-width="0.9"/>
<text transform="translate(130.5 237.78) scale(1.12 1)" font-size="6.6" text-anchor="end">0</text>
<path d="M145.3 214.39L145.3 218.21" stroke="#000" stroke-width="0.9"/>
<path d="M144 214.39L146.6 214.39" stroke="#000" stroke-width="0.9"/>
<rect x="140.95" y="218.66" width="8.7" height="16.29" fill="#fff" stroke="#000" stroke-width="0.9"/>
<path d="M154.9 190.62L154.9 194.22" stroke="#000" stroke-width="0.9"/>
<path d="M153.6 190.62L156.2 190.62" stroke="#000" stroke-width="0.9"/>
<rect x="150.1" y="194.22" width="9.6" height="41.18" fill="#000"/>
<path d="M177.4 171.94L177.4 175.76" stroke="#000" stroke-width="0.9"/>
<path d="M176.1 171.94L178.7 171.94" stroke="#000" stroke-width="0.9"/>
<rect x="173.05" y="176.21" width="8.7" height="58.74" fill="#fff" stroke="#000" stroke-width="0.9"/>
<path d="M187 170.66L187 173.85" stroke="#000" stroke-width="0.9"/>
<path d="M185.7 170.66L188.3 170.66" stroke="#000" stroke-width="0.9"/>
<rect x="182.2" y="173.85" width="9.6" height="61.55" fill="#000"/>
<text x="152.9" y="153.9" font-size="6.5">P &lt; 0.01</text>
<path d="M144.25 173.75L144.25 155.5L183.75 155.5L183.75 161.25" stroke="#000" stroke-width="0.9" fill="none"/>
<path d="M139.25 195L139.25 173.75L148 173.75L148 178" stroke="#000" stroke-width="0.9" fill="none"/>
<path d="M179.25 166.25L179.25 161.25L188.75 161.25L188.75 166.25" stroke="#000" stroke-width="0.9" fill="none"/>
<text x="146" y="246" font-size="7.6">B6</text>
<text x="167.5" y="246" font-size="7.6">IFN-γR1<tspan font-size="4.71" dy="-2.89">–/–</tspan></text>
<text transform="translate(114.1 193) rotate(-90)" font-size="7.6" text-anchor="middle">10<tspan font-size="75%" dy="-2.8">6</tspan></text>
<text x="312.3" y="278.8" font-size="10" font-weight="bold">Fas on KLCD150<tspan font-size="65%" dy="-3.5">+</tspan><tspan dy="3.5"> Cells</tspan></text>
<path d="M313.6 296.7L313.6 463.3" stroke="#000" stroke-width="0.9"/>
<path d="M313.6 463.3L433.8 463.3" stroke="#000" stroke-width="0.9"/>
<path d="M313.6 296.7L318.1 296.7" stroke="#000" stroke-width="0.9"/>
<text x="310.2" y="300.19" font-size="9.7" text-anchor="end">80</text>
<path d="M313.6 338.35L318.1 338.35" stroke="#000" stroke-width="0.9"/>
<text x="310.2" y="341.84" font-size="9.7" text-anchor="end">60</text>
<path d="M313.6 380L318.1 380" stroke="#000" stroke-width="0.9"/>
<text x="310.2" y="383.49" font-size="9.7" text-anchor="end">40</text>
<path d="M313.6 421.65L318.1 421.65" stroke="#000" stroke-width="0.9"/>
<text x="310.2" y="425.14" font-size="9.7" text-anchor="end">20</text>
<path d="M313.6 463.3L318.1 463.3" stroke="#000" stroke-width="0.9"/>
<text x="310.2" y="466.79" font-size="9.7" text-anchor="end">0</text>
<path d="M335.7 324.19L335.7 335.85" stroke="#000" stroke-width="0.9"/>
<path d="M334.4 324.19L337 324.19" stroke="#000" stroke-width="0.9"/>
<rect x="327.25" y="336.3" width="16.9" height="126.55" fill="#fff" stroke="#000" stroke-width="0.9"/>
<path d="M353.55 374.38L353.55 387.08" stroke="#000" stroke-width="0.9"/>
<path d="M352.25 374.38L354.85 374.38" stroke="#000" stroke-width="0.9"/>
<rect x="344.6" y="387.08" width="17.9" height="76.22" fill="#000"/>
<path d="M398.95 398.95L398.95 409.78" stroke="#000" stroke-width="0.9"/>
<path d="M397.65 398.95L400.25 398.95" stroke="#000" stroke-width="0.9"/>
<rect x="390.65" y="410.23" width="16.6" height="52.62" fill="#fff" stroke="#000" stroke-width="0.9"/>
<path d="M416.6 395.62L416.6 406.24" stroke="#000" stroke-width="0.9"/>
<path d="M415.3 395.62L417.9 395.62" stroke="#000" stroke-width="0.9"/>
<rect x="407.7" y="406.24" width="17.8" height="57.06" fill="#000"/>
<text x="360.6" y="299.8" font-size="8.7">P &lt; 0.05</text>
<path d="M340.9 321.3L340.9 302.5L412.3 302.5L412.3 313.3" stroke="#000" stroke-width="0.9" fill="none"/>
<path d="M331.7 325L331.7 321.3L350.2 321.3L350.2 360.5" stroke="#000" stroke-width="0.9" fill="none"/>
<path d="M403 360.5L403 313.3L420.6 313.3L420.6 368.8" stroke="#000" stroke-width="0.9" fill="none"/>
<rect x="360.3" y="331.4" width="4" height="3.9" fill="#fff" stroke="#000" stroke-width="0.8"/>
<rect x="359.9" y="339.4" width="4.3" height="4.5" fill="#000"/>
<text x="367" y="335.5" font-size="6.3">BM failure</text>
<text x="367" y="344.2" font-size="6.3">Control</text>
<text transform="translate(288.3 379.2) rotate(-90)" font-size="10.5" text-anchor="middle">%</text>
<text x="340.9" y="477.5" font-size="10">B6</text>
<text x="384.6" y="477.5" font-size="10">IFN-γR1<tspan font-size="6.2" dy="-3.8">–/–</tspan></text>
<text x="320" y="508.8" font-size="10" font-weight="bold">KLCD150<tspan font-size="65%" dy="-3.5">+</tspan><tspan dy="3.5"> BM Cells</tspan></text>
<path d="M313.6 526.6L313.6 694.5" stroke="#000" stroke-width="0.9"/>
<path d="M313.6 694.5L433.8 694.5" stroke="#000" stroke-width="0.9"/>
<path d="M313.6 526.6L318.1 526.6" stroke="#000" stroke-width="0.9"/>
<text x="310.2" y="530.09" font-size="9.7" text-anchor="end">600</text>
<path d="M313.6 582.57L318.1 582.57" stroke="#000" stroke-width="0.9"/>
<text x="310.2" y="586.06" font-size="9.7" text-anchor="end">400</text>
<path d="M313.6 638.53L318.1 638.53" stroke="#000" stroke-width="0.9"/>
<text x="310.2" y="642.03" font-size="9.7" text-anchor="end">200</text>
<path d="M313.6 694.5L318.1 694.5" stroke="#000" stroke-width="0.9"/>
<text x="310.2" y="697.99" font-size="9.7" text-anchor="end">0</text>
<path d="M335.7 683.31L335.7 692.54" stroke="#000" stroke-width="0.9"/>
<path d="M334.4 683.31L337 683.31" stroke="#000" stroke-width="0.9"/>
<rect x="327.25" y="692.99" width="16.9" height="1.06" fill="#fff" stroke="#000" stroke-width="0.9"/>
<path d="M353.55 634.34L353.55 645.53" stroke="#000" stroke-width="0.9"/>
<path d="M352.25 634.34L354.85 634.34" stroke="#000" stroke-width="0.9"/>
<rect x="344.6" y="645.53" width="17.9" height="48.97" fill="#000"/>
<path d="M398.95 529.4L398.95 539.19" stroke="#000" stroke-width="0.9"/>
<path d="M397.65 529.4L400.25 529.4" stroke="#000" stroke-width="0.9"/>
<rect x="390.65" y="539.64" width="16.6" height="154.41" fill="#fff" stroke="#000" stroke-width="0.9"/>
<path d="M416.6 593.2L416.6 602.15" stroke="#000" stroke-width="0.9"/>
<path d="M415.3 593.2L417.9 593.2" stroke="#000" stroke-width="0.9"/>
<rect x="407.7" y="602.15" width="17.8" height="92.35" fill="#000"/>
<text x="356.9" y="525.2" font-size="8.7">P &lt; 0.01</text>
<path d="M334.8 531.3L334.8 515.9L412.9 515.9L412.9 524.2" stroke="#000" stroke-width="0.9" fill="none"/>
<path d="M325.5 575.6L325.5 531.3L343.1 531.3L343.1 560.5" stroke="#000" stroke-width="0.9" fill="none"/>
<path d="M404 534.4L404 524.2L421.5 524.2L421.5 587.3" stroke="#000" stroke-width="0.9" fill="none"/>
<rect x="348.4" y="584.3" width="3.9" height="3.9" fill="#fff" stroke="#000" stroke-width="0.8"/>
<rect x="348" y="592.4" width="4.4" height="4.6" fill="#000"/>
<text x="355.4" y="588.6" font-size="6.3">BM failure</text>
<text x="355.4" y="596.6" font-size="6.3">Control</text>
<text transform="translate(288 610.5) rotate(-90)" font-size="10" text-anchor="middle">10<tspan font-size="85%" dy="-2">3</tspan></text>
<text x="340.9" y="707.7" font-size="10">B6</text>
<text x="384.3" y="707.7" font-size="10">IFN-γR1<tspan font-size="6.2" dy="-3.8">–/–</tspan></text>
<text x="215.6" y="13.8" font-size="17" font-weight="bold">B</text>
<text x="278" y="7.6" font-size="8.8" font-weight="bold" text-anchor="middle">B6</text>
<text x="278" y="17.9" font-size="8.6" font-weight="bold" text-anchor="middle">BM Failure</text>
<text x="350" y="7.6" font-size="8.8" font-weight="bold" text-anchor="middle">B6</text>
<text x="350" y="17.9" font-size="8.6" font-weight="bold" text-anchor="middle">Control</text>
<text x="422.2" y="7.6" font-size="8.8" font-weight="bold" text-anchor="middle">IFN-gR1<tspan font-size="4.6" dy="-3.4">–/–</tspan></text>
<text x="422.1" y="17.9" font-size="8.6" font-weight="bold" text-anchor="middle">BM Failure</text>
<text x="493.3" y="7.6" font-size="8.8" font-weight="bold" text-anchor="middle">IFN-gR1<tspan font-size="4.6" dy="-3.4">–/–</tspan></text>
<text x="491.6" y="17.9" font-size="8.6" font-weight="bold" text-anchor="middle">Control</text>
<path d="M234.3 26.5L234.3 121.1" stroke="#000" stroke-width="1.1"/>
<path d="M234.3 121.1L515.5 121.1" stroke="#000" stroke-width="1.1"/>
<path d="M232.5 27.7L234.3 23.5L236.1 27.7Z" stroke="#000" stroke-width="0.1" fill="#000"/>
<path d="M514.3 119.3L518.5 121.1L514.3 122.9Z" stroke="#000" stroke-width="0.1" fill="#000"/>
<path d="M234.3 145.5L234.3 241.1" stroke="#000" stroke-width="1.1"/>
<path d="M234.3 241.1L515.5 241.1" stroke="#000" stroke-width="1.1"/>
<path d="M232.5 146.7L234.3 142.5L236.1 146.7Z" stroke="#000" stroke-width="0.1" fill="#000"/>
<path d="M514.3 239.3L518.5 241.1L514.3 242.9Z" stroke="#000" stroke-width="0.1" fill="#000"/>
<text transform="translate(228.3 69.5) rotate(-90)" font-size="10" text-anchor="middle">CD4-APC</text>
<text transform="translate(228.3 191) rotate(-90)" font-size="10" text-anchor="middle">CD8-PE-Cy5</text>
<text x="385.3" y="133" font-size="10.2" text-anchor="middle">SSC-A</text>
<text x="385.3" y="253" font-size="10.2" text-anchor="middle">SSC-A</text>
<rect x="251.5" y="21.4" width="54" height="85.6" fill="none" stroke="#111" stroke-width="0.85"/>
<path d="M247.9 31L251.5 31M249.3 45.68L251.5 45.68M249.3 41.98L251.5 41.98M249.3 39.36L251.5 39.36M249.3 37.32L251.5 37.32M249.3 35.66L251.5 35.66M249.3 34.25L251.5 34.25M249.3 33.04L251.5 33.04M249.3 31.96L251.5 31.96M247.9 52.4L251.5 52.4M249.3 67.08L251.5 67.08M249.3 63.38L251.5 63.38M249.3 60.76L251.5 60.76M249.3 58.72L251.5 58.72M249.3 57.06L251.5 57.06M249.3 55.65L251.5 55.65M249.3 54.44L251.5 54.44M249.3 53.36L251.5 53.36M247.9 73.4L251.5 73.4M249.3 88.08L251.5 88.08M249.3 84.38L251.5 84.38M249.3 81.76L251.5 81.76M249.3 79.72L251.5 79.72M249.3 78.06L251.5 78.06M249.3 76.65L251.5 76.65M249.3 75.44L251.5 75.44M249.3 74.36L251.5 74.36M247.9 94.2L251.5 94.2M249.3 105.18L251.5 105.18M249.3 102.56L251.5 102.56M249.3 100.52L251.5 100.52M249.3 98.86L251.5 98.86M249.3 97.45L251.5 97.45M249.3 96.24L251.5 96.24M249.3 95.16L251.5 95.16M249.3 24.68L251.5 24.68M259.8 107L259.8 110.4M252.69 107L252.69 109.2M254.39 107L254.39 109.2M255.71 107L255.71 109.2M256.78 107L256.78 109.2M257.69 107L257.69 109.2M258.48 107L258.48 109.2M259.18 107L259.18 109.2M273.2 107L273.2 110.4M263.69 107L263.69 109.2M266.09 107L266.09 109.2M267.79 107L267.79 109.2M269.11 107L269.11 109.2M270.18 107L270.18 109.2M271.09 107L271.09 109.2M271.88 107L271.88 109.2M272.58 107L272.58 109.2M287 107L287 110.4M277.49 107L277.49 109.2M279.89 107L279.89 109.2M281.59 107L281.59 109.2M282.91 107L282.91 109.2M283.98 107L283.98 109.2M284.89 107L284.89 109.2M285.68 107L285.68 109.2M286.38 107L286.38 109.2M300.5 107L300.5 110.4M290.99 107L290.99 109.2M293.39 107L293.39 109.2M295.09 107L295.09 109.2M296.41 107L296.41 109.2M297.48 107L297.48 109.2M298.39 107L298.39 109.2M299.18 107L299.18 109.2M299.88 107L299.88 109.2" stroke="#000" stroke-width="0.7"/>
<text transform="translate(246.9 33.09) scale(1 1)" font-size="5.8" text-anchor="end" fill="#111" stroke="#000" stroke-width="0.22">10<tspan font-size="65%" dy="-2.44">5</tspan></text>
<text transform="translate(246.9 54.49) scale(1 1)" font-size="5.8" text-anchor="end" fill="#111" stroke="#000" stroke-width="0.22">10<tspan font-size="65%" dy="-2.44">4</tspan></text>
<text transform="translate(246.9 75.49) scale(1 1)" font-size="5.8" text-anchor="end" fill="#111" stroke="#000" stroke-width="0.22">10<tspan font-size="65%" dy="-2.44">3</tspan></text>
<text transform="translate(246.9 96.29) scale(1 1)" font-size="5.8" text-anchor="end" fill="#111" stroke="#000" stroke-width="0.22">10<tspan font-size="65%" dy="-2.44">2</tspan></text>
<text transform="translate(259.8 116.6) scale(1 1)" font-size="5.8" text-anchor="middle" fill="#111" stroke="#000" stroke-width="0.22">10<tspan font-size="65%" dy="-2.44">2</tspan></text>
<text transform="translate(273.2 116.6) scale(1 1)" font-size="5.8" text-anchor="middle" fill="#111" stroke="#000" stroke-width="0.22">10<tspan font-size="65%" dy="-2.44">3</tspan></text>
<text transform="translate(287 116.6) scale(1 1)" font-size="5.8" text-anchor="middle" fill="#111" stroke="#000" stroke-width="0.22">10<tspan font-size="65%" dy="-2.44">4</tspan></text>
<text transform="translate(300.5 116.6) scale(1 1)" font-size="5.8" text-anchor="middle" fill="#111" stroke="#000" stroke-width="0.22">10<tspan font-size="65%" dy="-2.44">5</tspan></text>
<path d="M285.4 29.1L296.5 32.8L305.1 41.3L288.5 69.3L272.3 60.8Z" stroke="#222" stroke-width="0.9" fill="none"/>
<text x="260.1" y="31.9" font-size="6.3" style="fill:#444" stroke="#555" stroke-width="0.25">CD4</text>
<text x="260.2" y="41.2" font-size="5.7" font-weight="bold" style="fill:#000" stroke="#000" stroke-width="0.25">1.5%</text>
<rect x="322.3" y="21.4" width="54" height="85.6" fill="none" stroke="#111" stroke-width="0.85"/>
<path d="M318.7 31L322.3 31M320.1 45.68L322.3 45.68M320.1 41.98L322.3 41.98M320.1 39.36L322.3 39.36M320.1 37.32L322.3 37.32M320.1 35.66L322.3 35.66M320.1 34.25L322.3 34.25M320.1 33.04L322.3 33.04M320.1 31.96L322.3 31.96M318.7 52.4L322.3 52.4M320.1 67.08L322.3 67.08M320.1 63.38L322.3 63.38M320.1 60.76L322.3 60.76M320.1 58.72L322.3 58.72M320.1 57.06L322.3 57.06M320.1 55.65L322.3 55.65M320.1 54.44L322.3 54.44M320.1 53.36L322.3 53.36M318.7 73.4L322.3 73.4M320.1 88.08L322.3 88.08M320.1 84.38L322.3 84.38M320.1 81.76L322.3 81.76M320.1 79.72L322.3 79.72M320.1 78.06L322.3 78.06M320.1 76.65L322.3 76.65M320.1 75.44L322.3 75.44M320.1 74.36L322.3 74.36M318.7 94.2L322.3 94.2M320.1 105.18L322.3 105.18M320.1 102.56L322.3 102.56M320.1 100.52L322.3 100.52M320.1 98.86L322.3 98.86M320.1 97.45L322.3 97.45M320.1 96.24L322.3 96.24M320.1 95.16L322.3 95.16M320.1 24.68L322.3 24.68M330.6 107L330.6 110.4M323.49 107L323.49 109.2M325.19 107L325.19 109.2M326.51 107L326.51 109.2M327.58 107L327.58 109.2M328.49 107L328.49 109.2M329.28 107L329.28 109.2M329.98 107L329.98 109.2M344 107L344 110.4M334.49 107L334.49 109.2M336.89 107L336.89 109.2M338.59 107L338.59 109.2M339.91 107L339.91 109.2M340.98 107L340.98 109.2M341.89 107L341.89 109.2M342.68 107L342.68 109.2M343.38 107L343.38 109.2M357.8 107L357.8 110.4M348.29 107L348.29 109.2M350.69 107L350.69 109.2M352.39 107L352.39 109.2M353.71 107L353.71 109.2M354.78 107L354.78 109.2M355.69 107L355.69 109.2M356.48 107L356.48 109.2M357.18 107L357.18 109.2M371.3 107L371.3 110.4M361.79 107L361.79 109.2M364.19 107L364.19 109.2M365.89 107L365.89 109.2M367.21 107L367.21 109.2M368.28 107L368.28 109.2M369.19 107L369.19 109.2M369.98 107L369.98 109.2M370.68 107L370.68 109.2" stroke="#000" stroke-width="0.7"/>
<text transform="translate(317.7 33.09) scale(1 1)" font-size="5.8" text-anchor="end" fill="#111" stroke="#000" stroke-width="0.22">10<tspan font-size="65%" dy="-2.44">5</tspan></text>
<text transform="translate(317.7 54.49) scale(1 1)" font-size="5.8" text-anchor="end" fill="#111" stroke="#000" stroke-width="0.22">10<tspan font-size="65%" dy="-2.44">4</tspan></text>
<text transform="translate(317.7 75.49) scale(1 1)" font-size="5.8" text-anchor="end" fill="#111" stroke="#000" stroke-width="0.22">10<tspan font-size="65%" dy="-2.44">3</tspan></text>
<text transform="translate(317.7 96.29) scale(1 1)" font-size="5.8" text-anchor="end" fill="#111" stroke="#000" stroke-width="0.22">10<tspan font-size="65%" dy="-2.44">2</tspan></text>
<text transform="translate(330.6 116.6) scale(1 1)" font-size="5.8" text-anchor="middle" fill="#111" stroke="#000" stroke-width="0.22">10<tspan font-size="65%" dy="-2.44">2</tspan></text>
<text transform="translate(344 116.6) scale(1 1)" font-size="5.8" text-anchor="middle" fill="#111" stroke="#000" stroke-width="0.22">10<tspan font-size="65%" dy="-2.44">3</tspan></text>
<text transform="translate(357.8 116.6) scale(1 1)" font-size="5.8" text-anchor="middle" fill="#111" stroke="#000" stroke-width="0.22">10<tspan font-size="65%" dy="-2.44">4</tspan></text>
<text transform="translate(371.3 116.6) scale(1 1)" font-size="5.8" text-anchor="middle" fill="#111" stroke="#000" stroke-width="0.22">10<tspan font-size="65%" dy="-2.44">5</tspan></text>
<path d="M356.2 29.1L367.3 32.8L375.9 41.3L359.3 69.3L343.1 60.8Z" stroke="#222" stroke-width="0.9" fill="none"/>
<text x="330.9" y="31.9" font-size="6.3" style="fill:#444" stroke="#555" stroke-width="0.25">CD4</text>
<text x="331" y="41.2" font-size="5.7" font-weight="bold" style="fill:#000" stroke="#000" stroke-width="0.25">0.3%</text>
<rect x="393.5" y="21.4" width="54" height="85.6" fill="none" stroke="#111" stroke-width="0.85"/>
<path d="M389.9 31L393.5 31M391.3 45.68L393.5 45.68M391.3 41.98L393.5 41.98M391.3 39.36L393.5 39.36M391.3 37.32L393.5 37.32M391.3 35.66L393.5 35.66M391.3 34.25L393.5 34.25M391.3 33.04L393.5 33.04M391.3 31.96L393.5 31.96M389.9 52.4L393.5 52.4M391.3 67.08L393.5 67.08M391.3 63.38L393.5 63.38M391.3 60.76L393.5 60.76M391.3 58.72L393.5 58.72M391.3 57.06L393.5 57.06M391.3 55.65L393.5 55.65M391.3 54.44L393.5 54.44M391.3 53.36L393.5 53.36M389.9 73.4L393.5 73.4M391.3 88.08L393.5 88.08M391.3 84.38L393.5 84.38M391.3 81.76L393.5 81.76M391.3 79.72L393.5 79.72M391.3 78.06L393.5 78.06M391.3 76.65L393.5 76.65M391.3 75.44L393.5 75.44M391.3 74.36L393.5 74.36M389.9 94.2L393.5 94.2M391.3 105.18L393.5 105.18M391.3 102.56L393.5 102.56M391.3 100.52L393.5 100.52M391.3 98.86L393.5 98.86M391.3 97.45L393.5 97.45M391.3 96.24L393.5 96.24M391.3 95.16L393.5 95.16M391.3 24.68L393.5 24.68M401.8 107L401.8 110.4M394.69 107L394.69 109.2M396.39 107L396.39 109.2M397.71 107L397.71 109.2M398.78 107L398.78 109.2M399.69 107L399.69 109.2M400.48 107L400.48 109.2M401.18 107L401.18 109.2M415.2 107L415.2 110.4M405.69 107L405.69 109.2M408.09 107L408.09 109.2M409.79 107L409.79 109.2M411.11 107L411.11 109.2M412.18 107L412.18 109.2M413.09 107L413.09 109.2M413.88 107L413.88 109.2M414.58 107L414.58 109.2M429 107L429 110.4M419.49 107L419.49 109.2M421.89 107L421.89 109.2M423.59 107L423.59 109.2M424.91 107L424.91 109.2M425.98 107L425.98 109.2M426.89 107L426.89 109.2M427.68 107L427.68 109.2M428.38 107L428.38 109.2M442.5 107L442.5 110.4M432.99 107L432.99 109.2M435.39 107L435.39 109.2M437.09 107L437.09 109.2M438.41 107L438.41 109.2M439.48 107L439.48 109.2M440.39 107L440.39 109.2M441.18 107L441.18 109.2M441.88 107L441.88 109.2" stroke="#000" stroke-width="0.7"/>
<text transform="translate(388.9 33.09) scale(1 1)" font-size="5.8" text-anchor="end" fill="#111" stroke="#000" stroke-width="0.22">10<tspan font-size="65%" dy="-2.44">5</tspan></text>
<text transform="translate(388.9 54.49) scale(1 1)" font-size="5.8" text-anchor="end" fill="#111" stroke="#000" stroke-width="0.22">10<tspan font-size="65%" dy="-2.44">4</tspan></text>
<text transform="translate(388.9 75.49) scale(1 1)" font-size="5.8" text-anchor="end" fill="#111" stroke="#000" stroke-width="0.22">10<tspan font-size="65%" dy="-2.44">3</tspan></text>
<text transform="translate(388.9 96.29) scale(1 1)" font-size="5.8" text-anchor="end" fill="#111" stroke="#000" stroke-width="0.22">10<tspan font-size="65%" dy="-2.44">2</tspan></text>
<text transform="translate(401.8 116.6) scale(1 1)" font-size="5.8" text-anchor="middle" fill="#111" stroke="#000" stroke-width="0.22">10<tspan font-size="65%" dy="-2.44">2</tspan></text>
<text transform="translate(415.2 116.6) scale(1 1)" font-size="5.8" text-anchor="middle" fill="#111" stroke="#000" stroke-width="0.22">10<tspan font-size="65%" dy="-2.44">3</tspan></text>
<text transform="translate(429 116.6) scale(1 1)" font-size="5.8" text-anchor="middle" fill="#111" stroke="#000" stroke-width="0.22">10<tspan font-size="65%" dy="-2.44">4</tspan></text>
<text transform="translate(442.5 116.6) scale(1 1)" font-size="5.8" text-anchor="middle" fill="#111" stroke="#000" stroke-width="0.22">10<tspan font-size="65%" dy="-2.44">5</tspan></text>
<path d="M427.4 29.1L438.5 32.8L447.1 41.3L430.5 69.3L414.3 60.8Z" stroke="#222" stroke-width="0.9" fill="none"/>
<text x="402.1" y="31.9" font-size="6.3" style="fill:#444" stroke="#555" stroke-width="0.25">CD4</text>
<text x="402.2" y="41.2" font-size="5.7" font-weight="bold" style="fill:#000" stroke="#000" stroke-width="0.25">0.1%</text>
<rect x="465.2" y="21.4" width="54" height="85.6" fill="none" stroke="#111" stroke-width="0.85"/>
<path d="M461.6 31L465.2 31M463 45.68L465.2 45.68M463 41.98L465.2 41.98M463 39.36L465.2 39.36M463 37.32L465.2 37.32M463 35.66L465.2 35.66M463 34.25L465.2 34.25M463 33.04L465.2 33.04M463 31.96L465.2 31.96M461.6 52.4L465.2 52.4M463 67.08L465.2 67.08M463 63.38L465.2 63.38M463 60.76L465.2 60.76M463 58.72L465.2 58.72M463 57.06L465.2 57.06M463 55.65L465.2 55.65M463 54.44L465.2 54.44M463 53.36L465.2 53.36M461.6 73.4L465.2 73.4M463 88.08L465.2 88.08M463 84.38L465.2 84.38M463 81.76L465.2 81.76M463 79.72L465.2 79.72M463 78.06L465.2 78.06M463 76.65L465.2 76.65M463 75.44L465.2 75.44M463 74.36L465.2 74.36M461.6 94.2L465.2 94.2M463 105.18L465.2 105.18M463 102.56L465.2 102.56M463 100.52L465.2 100.52M463 98.86L465.2 98.86M463 97.45L465.2 97.45M463 96.24L465.2 96.24M463 95.16L465.2 95.16M463 24.68L465.2 24.68M473.5 107L473.5 110.4M466.39 107L466.39 109.2M468.09 107L468.09 109.2M469.41 107L469.41 109.2M470.48 107L470.48 109.2M471.39 107L471.39 109.2M472.18 107L472.18 109.2M472.88 107L472.88 109.2M486.9 107L486.9 110.4M477.39 107L477.39 109.2M479.79 107L479.79 109.2M481.49 107L481.49 109.2M482.81 107L482.81 109.2M483.88 107L483.88 109.2M484.79 107L484.79 109.2M485.58 107L485.58 109.2M486.28 107L486.28 109.2M500.7 107L500.7 110.4M491.19 107L491.19 109.2M493.59 107L493.59 109.2M495.29 107L495.29 109.2M496.61 107L496.61 109.2M497.68 107L497.68 109.2M498.59 107L498.59 109.2M499.38 107L499.38 109.2M500.08 107L500.08 109.2M514.2 107L514.2 110.4M504.69 107L504.69 109.2M507.09 107L507.09 109.2M508.79 107L508.79 109.2M510.11 107L510.11 109.2M511.18 107L511.18 109.2M512.09 107L512.09 109.2M512.88 107L512.88 109.2M513.58 107L513.58 109.2" stroke="#000" stroke-width="0.7"/>
<text transform="translate(460.6 33.09) scale(1 1)" font-size="5.8" text-anchor="end" fill="#111" stroke="#000" stroke-width="0.22">10<tspan font-size="65%" dy="-2.44">5</tspan></text>
<text transform="translate(460.6 54.49) scale(1 1)" font-size="5.8" text-anchor="end" fill="#111" stroke="#000" stroke-width="0.22">10<tspan font-size="65%" dy="-2.44">4</tspan></text>
<text transform="translate(460.6 75.49) scale(1 1)" font-size="5.8" text-anchor="end" fill="#111" stroke="#000" stroke-width="0.22">10<tspan font-size="65%" dy="-2.44">3</tspan></text>
<text transform="translate(460.6 96.29) scale(1 1)" font-size="5.8" text-anchor="end" fill="#111" stroke="#000" stroke-width="0.22">10<tspan font-size="65%" dy="-2.44">2</tspan></text>
<text transform="translate(473.5 116.6) scale(1 1)" font-size="5.8" text-anchor="middle" fill="#111" stroke="#000" stroke-width="0.22">10<tspan font-size="65%" dy="-2.44">2</tspan></text>
<text transform="translate(486.9 116.6) scale(1 1)" font-size="5.8" text-anchor="middle" fill="#111" stroke="#000" stroke-width="0.22">10<tspan font-size="65%" dy="-2.44">3</tspan></text>
<text transform="translate(500.7 116.6) scale(1 1)" font-size="5.8" text-anchor="middle" fill="#111" stroke="#000" stroke-width="0.22">10<tspan font-size="65%" dy="-2.44">4</tspan></text>
<text transform="translate(514.2 116.6) scale(1 1)" font-size="5.8" text-anchor="middle" fill="#111" stroke="#000" stroke-width="0.22">10<tspan font-size="65%" dy="-2.44">5</tspan></text>
<path d="M499.1 29.1L510.2 32.8L518.8 41.3L502.2 69.3L486 60.8Z" stroke="#222" stroke-width="0.9" fill="none"/>
<text x="473.8" y="31.9" font-size="6.3" style="fill:#444" stroke="#555" stroke-width="0.25">CD4</text>
<text x="473.9" y="41.2" font-size="5.7" font-weight="bold" style="fill:#000" stroke="#000" stroke-width="0.25">0.1%</text>
<rect x="251.5" y="141.4" width="54" height="85.6" fill="none" stroke="#111" stroke-width="0.85"/>
<path d="M247.9 151L251.5 151M249.3 165.68L251.5 165.68M249.3 161.98L251.5 161.98M249.3 159.36L251.5 159.36M249.3 157.32L251.5 157.32M249.3 155.66L251.5 155.66M249.3 154.25L251.5 154.25M249.3 153.04L251.5 153.04M249.3 151.96L251.5 151.96M247.9 172.4L251.5 172.4M249.3 187.08L251.5 187.08M249.3 183.38L251.5 183.38M249.3 180.76L251.5 180.76M249.3 178.72L251.5 178.72M249.3 177.06L251.5 177.06M249.3 175.65L251.5 175.65M249.3 174.44L251.5 174.44M249.3 173.36L251.5 173.36M247.9 193.4L251.5 193.4M249.3 208.08L251.5 208.08M249.3 204.38L251.5 204.38M249.3 201.76L251.5 201.76M249.3 199.72L251.5 199.72M249.3 198.06L251.5 198.06M249.3 196.65L251.5 196.65M249.3 195.44L251.5 195.44M249.3 194.36L251.5 194.36M247.9 214.2L251.5 214.2M249.3 225.18L251.5 225.18M249.3 222.56L251.5 222.56M249.3 220.52L251.5 220.52M249.3 218.86L251.5 218.86M249.3 217.45L251.5 217.45M249.3 216.24L251.5 216.24M249.3 215.16L251.5 215.16M249.3 144.68L251.5 144.68M259.8 227L259.8 230.4M252.69 227L252.69 229.2M254.39 227L254.39 229.2M255.71 227L255.71 229.2M256.78 227L256.78 229.2M257.69 227L257.69 229.2M258.48 227L258.48 229.2M259.18 227L259.18 229.2M273.2 227L273.2 230.4M263.69 227L263.69 229.2M266.09 227L266.09 229.2M267.79 227L267.79 229.2M269.11 227L269.11 229.2M270.18 227L270.18 229.2M271.09 227L271.09 229.2M271.88 227L271.88 229.2M272.58 227L272.58 229.2M287 227L287 230.4M277.49 227L277.49 229.2M279.89 227L279.89 229.2M281.59 227L281.59 229.2M282.91 227L282.91 229.2M283.98 227L283.98 229.2M284.89 227L284.89 229.2M285.68 227L285.68 229.2M286.38 227L286.38 229.2M300.5 227L300.5 230.4M290.99 227L290.99 229.2M293.39 227L293.39 229.2M295.09 227L295.09 229.2M296.41 227L296.41 229.2M297.48 227L297.48 229.2M298.39 227L298.39 229.2M299.18 227L299.18 229.2M299.88 227L299.88 229.2" stroke="#000" stroke-width="0.7"/>
<text transform="translate(246.9 153.09) scale(1 1)" font-size="5.8" text-anchor="end" fill="#111" stroke="#000" stroke-width="0.22">10<tspan font-size="65%" dy="-2.44">5</tspan></text>
<text transform="translate(246.9 174.49) scale(1 1)" font-size="5.8" text-anchor="end" fill="#111" stroke="#000" stroke-width="0.22">10<tspan font-size="65%" dy="-2.44">4</tspan></text>
<text transform="translate(246.9 195.49) scale(1 1)" font-size="5.8" text-anchor="end" fill="#111" stroke="#000" stroke-width="0.22">10<tspan font-size="65%" dy="-2.44">3</tspan></text>
<text transform="translate(246.9 216.29) scale(1 1)" font-size="5.8" text-anchor="end" fill="#111" stroke="#000" stroke-width="0.22">10<tspan font-size="65%" dy="-2.44">2</tspan></text>
<text transform="translate(259.8 236.6) scale(1 1)" font-size="5.8" text-anchor="middle" fill="#111" stroke="#000" stroke-width="0.22">10<tspan font-size="65%" dy="-2.44">2</tspan></text>
<text transform="translate(273.2 236.6) scale(1 1)" font-size="5.8" text-anchor="middle" fill="#111" stroke="#000" stroke-width="0.22">10<tspan font-size="65%" dy="-2.44">3</tspan></text>
<text transform="translate(287 236.6) scale(1 1)" font-size="5.8" text-anchor="middle" fill="#111" stroke="#000" stroke-width="0.22">10<tspan font-size="65%" dy="-2.44">4</tspan></text>
<text transform="translate(300.5 236.6) scale(1 1)" font-size="5.8" text-anchor="middle" fill="#111" stroke="#000" stroke-width="0.22">10<tspan font-size="65%" dy="-2.44">5</tspan></text>
<path d="M267.4 175.1L296.1 151.1L304.7 176.4L289.3 198.4L272.5 199.2Z" stroke="#222" stroke-width="0.9" fill="none"/>
<text x="260.1" y="152.7" font-size="6.3" style="fill:#444" stroke="#555" stroke-width="0.25">CD8</text>
<text x="260.2" y="162.8" font-size="5.7" font-weight="bold" style="fill:#000" stroke="#000" stroke-width="0.25">7.6%</text>
<rect x="322.3" y="141.4" width="54" height="85.6" fill="none" stroke="#111" stroke-width="0.85"/>
<path d="M318.7 151L322.3 151M320.1 165.68L322.3 165.68M320.1 161.98L322.3 161.98M320.1 159.36L322.3 159.36M320.1 157.32L322.3 157.32M320.1 155.66L322.3 155.66M320.1 154.25L322.3 154.25M320.1 153.04L322.3 153.04M320.1 151.96L322.3 151.96M318.7 172.4L322.3 172.4M320.1 187.08L322.3 187.08M320.1 183.38L322.3 183.38M320.1 180.76L322.3 180.76M320.1 178.72L322.3 178.72M320.1 177.06L322.3 177.06M320.1 175.65L322.3 175.65M320.1 174.44L322.3 174.44M320.1 173.36L322.3 173.36M318.7 193.4L322.3 193.4M320.1 208.08L322.3 208.08M320.1 204.38L322.3 204.38M320.1 201.76L322.3 201.76M320.1 199.72L322.3 199.72M320.1 198.06L322.3 198.06M320.1 196.65L322.3 196.65M320.1 195.44L322.3 195.44M320.1 194.36L322.3 194.36M318.7 214.2L322.3 214.2M320.1 225.18L322.3 225.18M320.1 222.56L322.3 222.56M320.1 220.52L322.3 220.52M320.1 218.86L322.3 218.86M320.1 217.45L322.3 217.45M320.1 216.24L322.3 216.24M320.1 215.16L322.3 215.16M320.1 144.68L322.3 144.68M330.6 227L330.6 230.4M323.49 227L323.49 229.2M325.19 227L325.19 229.2M326.51 227L326.51 229.2M327.58 227L327.58 229.2M328.49 227L328.49 229.2M329.28 227L329.28 229.2M329.98 227L329.98 229.2M344 227L344 230.4M334.49 227L334.49 229.2M336.89 227L336.89 229.2M338.59 227L338.59 229.2M339.91 227L339.91 229.2M340.98 227L340.98 229.2M341.89 227L341.89 229.2M342.68 227L342.68 229.2M343.38 227L343.38 229.2M357.8 227L357.8 230.4M348.29 227L348.29 229.2M350.69 227L350.69 229.2M352.39 227L352.39 229.2M353.71 227L353.71 229.2M354.78 227L354.78 229.2M355.69 227L355.69 229.2M356.48 227L356.48 229.2M357.18 227L357.18 229.2M371.3 227L371.3 230.4M361.79 227L361.79 229.2M364.19 227L364.19 229.2M365.89 227L365.89 229.2M367.21 227L367.21 229.2M368.28 227L368.28 229.2M369.19 227L369.19 229.2M369.98 227L369.98 229.2M370.68 227L370.68 229.2" stroke="#000" stroke-width="0.7"/>
<text transform="translate(317.7 153.09) scale(1 1)" font-size="5.8" text-anchor="end" fill="#111" stroke="#000" stroke-width="0.22">10<tspan font-size="65%" dy="-2.44">5</tspan></text>
<text transform="translate(317.7 174.49) scale(1 1)" font-size="5.8" text-anchor="end" fill="#111" stroke="#000" stroke-width="0.22">10<tspan font-size="65%" dy="-2.44">4</tspan></text>
<text transform="translate(317.7 195.49) scale(1 1)" font-size="5.8" text-anchor="end" fill="#111" stroke="#000" stroke-width="0.22">10<tspan font-size="65%" dy="-2.44">3</tspan></text>
<text transform="translate(317.7 216.29) scale(1 1)" font-size="5.8" text-anchor="end" fill="#111" stroke="#000" stroke-width="0.22">10<tspan font-size="65%" dy="-2.44">2</tspan></text>
<text transform="translate(330.6 236.6) scale(1 1)" font-size="5.8" text-anchor="middle" fill="#111" stroke="#000" stroke-width="0.22">10<tspan font-size="65%" dy="-2.44">2</tspan></text>
<text transform="translate(344 236.6) scale(1 1)" font-size="5.8" text-anchor="middle" fill="#111" stroke="#000" stroke-width="0.22">10<tspan font-size="65%" dy="-2.44">3</tspan></text>
<text transform="translate(357.8 236.6) scale(1 1)" font-size="5.8" text-anchor="middle" fill="#111" stroke="#000" stroke-width="0.22">10<tspan font-size="65%" dy="-2.44">4</tspan></text>
<text transform="translate(371.3 236.6) scale(1 1)" font-size="5.8" text-anchor="middle" fill="#111" stroke="#000" stroke-width="0.22">10<tspan font-size="65%" dy="-2.44">5</tspan></text>
<path d="M338.2 175.1L366.9 151.1L375.5 176.4L360.1 198.4L343.3 199.2Z" stroke="#222" stroke-width="0.9" fill="none"/>
<text x="330.9" y="152.7" font-size="6.3" style="fill:#444" stroke="#555" stroke-width="0.25">CD8</text>
<text x="331" y="162.8" font-size="5.7" font-weight="bold" style="fill:#000" stroke="#000" stroke-width="0.25">0.4%</text>
<rect x="393.5" y="141.4" width="54" height="85.6" fill="none" stroke="#111" stroke-width="0.85"/>
<path d="M389.9 151L393.5 151M391.3 165.68L393.5 165.68M391.3 161.98L393.5 161.98M391.3 159.36L393.5 159.36M391.3 157.32L393.5 157.32M391.3 155.66L393.5 155.66M391.3 154.25L393.5 154.25M391.3 153.04L393.5 153.04M391.3 151.96L393.5 151.96M389.9 172.4L393.5 172.4M391.3 187.08L393.5 187.08M391.3 183.38L393.5 183.38M391.3 180.76L393.5 180.76M391.3 178.72L393.5 178.72M391.3 177.06L393.5 177.06M391.3 175.65L393.5 175.65M391.3 174.44L393.5 174.44M391.3 173.36L393.5 173.36M389.9 193.4L393.5 193.4M391.3 208.08L393.5 208.08M391.3 204.38L393.5 204.38M391.3 201.76L393.5 201.76M391.3 199.72L393.5 199.72M391.3 198.06L393.5 198.06M391.3 196.65L393.5 196.65M391.3 195.44L393.5 195.44M391.3 194.36L393.5 194.36M389.9 214.2L393.5 214.2M391.3 225.18L393.5 225.18M391.3 222.56L393.5 222.56M391.3 220.52L393.5 220.52M391.3 218.86L393.5 218.86M391.3 217.45L393.5 217.45M391.3 216.24L393.5 216.24M391.3 215.16L393.5 215.16M391.3 144.68L393.5 144.68M401.8 227L401.8 230.4M394.69 227L394.69 229.2M396.39 227L396.39 229.2M397.71 227L397.71 229.2M398.78 227L398.78 229.2M399.69 227L399.69 229.2M400.48 227L400.48 229.2M401.18 227L401.18 229.2M415.2 227L415.2 230.4M405.69 227L405.69 229.2M408.09 227L408.09 229.2M409.79 227L409.79 229.2M411.11 227L411.11 229.2M412.18 227L412.18 229.2M413.09 227L413.09 229.2M413.88 227L413.88 229.2M414.58 227L414.58 229.2M429 227L429 230.4M419.49 227L419.49 229.2M421.89 227L421.89 229.2M423.59 227L423.59 229.2M424.91 227L424.91 229.2M425.98 227L425.98 229.2M426.89 227L426.89 229.2M427.68 227L427.68 229.2M428.38 227L428.38 229.2M442.5 227L442.5 230.4M432.99 227L432.99 229.2M435.39 227L435.39 229.2M437.09 227L437.09 229.2M438.41 227L438.41 229.2M439.48 227L439.48 229.2M440.39 227L440.39 229.2M441.18 227L441.18 229.2M441.88 227L441.88 229.2" stroke="#000" stroke-width="0.7"/>
<text transform="translate(388.9 153.09) scale(1 1)" font-size="5.8" text-anchor="end" fill="#111" stroke="#000" stroke-width="0.22">10<tspan font-size="65%" dy="-2.44">5</tspan></text>
<text transform="translate(388.9 174.49) scale(1 1)" font-size="5.8" text-anchor="end" fill="#111" stroke="#000" stroke-width="0.22">10<tspan font-size="65%" dy="-2.44">4</tspan></text>
<text transform="translate(388.9 195.49) scale(1 1)" font-size="5.8" text-anchor="end" fill="#111" stroke="#000" stroke-width="0.22">10<tspan font-size="65%" dy="-2.44">3</tspan></text>
<text transform="translate(388.9 216.29) scale(1 1)" font-size="5.8" text-anchor="end" fill="#111" stroke="#000" stroke-width="0.22">10<tspan font-size="65%" dy="-2.44">2</tspan></text>
<text transform="translate(401.8 236.6) scale(1 1)" font-size="5.8" text-anchor="middle" fill="#111" stroke="#000" stroke-width="0.22">10<tspan font-size="65%" dy="-2.44">2</tspan></text>
<text transform="translate(415.2 236.6) scale(1 1)" font-size="5.8" text-anchor="middle" fill="#111" stroke="#000" stroke-width="0.22">10<tspan font-size="65%" dy="-2.44">3</tspan></text>
<text transform="translate(429 236.6) scale(1 1)" font-size="5.8" text-anchor="middle" fill="#111" stroke="#000" stroke-width="0.22">10<tspan font-size="65%" dy="-2.44">4</tspan></text>
<text transform="translate(442.5 236.6) scale(1 1)" font-size="5.8" text-anchor="middle" fill="#111" stroke="#000" stroke-width="0.22">10<tspan font-size="65%" dy="-2.44">5</tspan></text>
<path d="M409.4 175.1L438.1 151.1L446.7 176.4L431.3 198.4L414.5 199.2Z" stroke="#222" stroke-width="0.9" fill="none"/>
<text x="402.1" y="152.7" font-size="6.3" style="fill:#444" stroke="#555" stroke-width="0.25">CD8</text>
<text x="402.2" y="162.8" font-size="5.7" font-weight="bold" style="fill:#000" stroke="#000" stroke-width="0.25">1.4%</text>
<rect x="465.2" y="141.4" width="54" height="85.6" fill="none" stroke="#111" stroke-width="0.85"/>
<path d="M461.6 151L465.2 151M463 165.68L465.2 165.68M463 161.98L465.2 161.98M463 159.36L465.2 159.36M463 157.32L465.2 157.32M463 155.66L465.2 155.66M463 154.25L465.2 154.25M463 153.04L465.2 153.04M463 151.96L465.2 151.96M461.6 172.4L465.2 172.4M463 187.08L465.2 187.08M463 183.38L465.2 183.38M463 180.76L465.2 180.76M463 178.72L465.2 178.72M463 177.06L465.2 177.06M463 175.65L465.2 175.65M463 174.44L465.2 174.44M463 173.36L465.2 173.36M461.6 193.4L465.2 193.4M463 208.08L465.2 208.08M463 204.38L465.2 204.38M463 201.76L465.2 201.76M463 199.72L465.2 199.72M463 198.06L465.2 198.06M463 196.65L465.2 196.65M463 195.44L465.2 195.44M463 194.36L465.2 194.36M461.6 214.2L465.2 214.2M463 225.18L465.2 225.18M463 222.56L465.2 222.56M463 220.52L465.2 220.52M463 218.86L465.2 218.86M463 217.45L465.2 217.45M463 216.24L465.2 216.24M463 215.16L465.2 215.16M463 144.68L465.2 144.68M473.5 227L473.5 230.4M466.39 227L466.39 229.2M468.09 227L468.09 229.2M469.41 227L469.41 229.2M470.48 227L470.48 229.2M471.39 227L471.39 229.2M472.18 227L472.18 229.2M472.88 227L472.88 229.2M486.9 227L486.9 230.4M477.39 227L477.39 229.2M479.79 227L479.79 229.2M481.49 227L481.49 229.2M482.81 227L482.81 229.2M483.88 227L483.88 229.2M484.79 227L484.79 229.2M485.58 227L485.58 229.2M486.28 227L486.28 229.2M500.7 227L500.7 230.4M491.19 227L491.19 229.2M493.59 227L493.59 229.2M495.29 227L495.29 229.2M496.61 227L496.61 229.2M497.68 227L497.68 229.2M498.59 227L498.59 229.2M499.38 227L499.38 229.2M500.08 227L500.08 229.2M514.2 227L514.2 230.4M504.69 227L504.69 229.2M507.09 227L507.09 229.2M508.79 227L508.79 229.2M510.11 227L510.11 229.2M511.18 227L511.18 229.2M512.09 227L512.09 229.2M512.88 227L512.88 229.2M513.58 227L513.58 229.2" stroke="#000" stroke-width="0.7"/>
<text transform="translate(460.6 153.09) scale(1 1)" font-size="5.8" text-anchor="end" fill="#111" stroke="#000" stroke-width="0.22">10<tspan font-size="65%" dy="-2.44">5</tspan></text>
<text transform="translate(460.6 174.49) scale(1 1)" font-size="5.8" text-anchor="end" fill="#111" stroke="#000" stroke-width="0.22">10<tspan font-size="65%" dy="-2.44">4</tspan></text>
<text transform="translate(460.6 195.49) scale(1 1)" font-size="5.8" text-anchor="end" fill="#111" stroke="#000" stroke-width="0.22">10<tspan font-size="65%" dy="-2.44">3</tspan></text>
<text transform="translate(460.6 216.29) scale(1 1)" font-size="5.8" text-anchor="end" fill="#111" stroke="#000" stroke-width="0.22">10<tspan font-size="65%" dy="-2.44">2</tspan></text>
<text transform="translate(473.5 236.6) scale(1 1)" font-size="5.8" text-anchor="middle" fill="#111" stroke="#000" stroke-width="0.22">10<tspan font-size="65%" dy="-2.44">2</tspan></text>
<text transform="translate(486.9 236.6) scale(1 1)" font-size="5.8" text-anchor="middle" fill="#111" stroke="#000" stroke-width="0.22">10<tspan font-size="65%" dy="-2.44">3</tspan></text>
<text transform="translate(500.7 236.6) scale(1 1)" font-size="5.8" text-anchor="middle" fill="#111" stroke="#000" stroke-width="0.22">10<tspan font-size="65%" dy="-2.44">4</tspan></text>
<text transform="translate(514.2 236.6) scale(1 1)" font-size="5.8" text-anchor="middle" fill="#111" stroke="#000" stroke-width="0.22">10<tspan font-size="65%" dy="-2.44">5</tspan></text>
<path d="M481.1 175.1L509.8 151.1L518.4 176.4L503 198.4L486.2 199.2Z" stroke="#222" stroke-width="0.9" fill="none"/>
<text x="473.8" y="152.7" font-size="6.3" style="fill:#444" stroke="#555" stroke-width="0.25">CD8</text>
<text x="473.9" y="162.8" font-size="5.7" font-weight="bold" style="fill:#000" stroke="#000" stroke-width="0.25">0.1%</text>
<text x="27.2" y="284.2" font-size="17.5" font-weight="bold">C</text>
<text x="134.9" y="278.4" font-size="10" font-weight="bold" text-anchor="middle">BM Failure</text>
<text x="211" y="278.4" font-size="10" font-weight="bold" text-anchor="middle">Control</text>
<path d="M57.1 295.8L57.1 464.3" stroke="#000" stroke-width="1.1"/>
<path d="M57.1 464.3L250.6 464.3" stroke="#000" stroke-width="1.1"/>
<path d="M55.3 297L57.1 292.8L58.9 297Z" stroke="#000" stroke-width="0.1" fill="#000"/>
<path d="M249.4 462.5L253.6 464.3L249.4 466.1Z" stroke="#000" stroke-width="0.1" fill="#000"/>
<text transform="translate(51.9 376.5) rotate(-90)" font-size="9.6" text-anchor="middle">Fas-PE</text>
<text transform="translate(78.1 319.5) rotate(-90)" font-size="9.3" text-anchor="middle">B6</text>
<text transform="translate(78.1 415.5) rotate(-90)" font-size="9.5" text-anchor="middle">IFN-γR1<tspan font-size="5.89" dy="-3.61">–/–</tspan></text>
<text x="174.6" y="477.4" font-size="10.2" text-anchor="middle">SSC-A</text>
<text x="27.2" y="510.6" font-size="17.2" font-weight="bold">D</text>
<text x="134.9" y="508.7" font-size="10" font-weight="bold" text-anchor="middle">BM Failure</text>
<text x="211" y="508.7" font-size="10" font-weight="bold" text-anchor="middle">Control</text>
<path d="M57.1 525.5L57.1 694.4" stroke="#000" stroke-width="1.1"/>
<path d="M57.1 694.4L250.4 694.4" stroke="#000" stroke-width="1.1"/>
<path d="M55.3 526.7L57.1 522.5L58.9 526.7Z" stroke="#000" stroke-width="0.1" fill="#000"/>
<path d="M249.2 692.6L253.4 694.4L249.2 696.2Z" stroke="#000" stroke-width="0.1" fill="#000"/>
<text transform="translate(52 605.9) rotate(-90)" font-size="9.8" text-anchor="middle">CD117-APC</text>
<text transform="translate(78 559.4) rotate(-90)" font-size="9.3" text-anchor="middle">B6</text>
<text transform="translate(78 647.5) rotate(-90)" font-size="9.5" text-anchor="middle">IFN-γR1<tspan font-size="5.89" dy="-3.61">–/–</tspan></text>
<text x="168" y="708.6" font-size="9.8" text-anchor="middle">CD150-PE-Cy5</text>
<rect x="99" y="291.6" width="67.5" height="67.4" fill="none" stroke="#111" stroke-width="0.85"/>
<path d="M95.4 309.2L99 309.2M96.8 322.62L99 322.62M96.8 319.24L99 319.24M96.8 316.84L99 316.84M96.8 314.98L99 314.98M96.8 313.46L99 313.46M96.8 312.17L99 312.17M96.8 311.06L99 311.06M96.8 310.08L99 310.08M95.4 328.3L99 328.3M96.8 341.72L99 341.72M96.8 338.34L99 338.34M96.8 335.94L99 335.94M96.8 334.08L99 334.08M96.8 332.56L99 332.56M96.8 331.27L99 331.27M96.8 330.16L99 330.16M96.8 329.18L99 329.18M95.4 347.6L99 347.6M96.8 357.64L99 357.64M96.8 355.24L99 355.24M96.8 353.38L99 353.38M96.8 351.86L99 351.86M96.8 350.57L99 350.57M96.8 349.46L99 349.46M96.8 348.48L99 348.48M96.8 303.42L99 303.42M96.8 300.04L99 300.04M96.8 297.64L99 297.64M96.8 295.78L99 295.78M96.8 294.26L99 294.26M96.8 292.97L99 292.97M110.3 359L110.3 362.4M101.25 359L101.25 361.2M103.42 359L103.42 361.2M105.09 359L105.09 361.2M106.46 359L106.46 361.2M107.62 359L107.62 361.2M108.62 359L108.62 361.2M109.51 359L109.51 361.2M127.2 359L127.2 362.4M115.11 359L115.11 361.2M118.15 359L118.15 361.2M120.32 359L120.32 361.2M121.99 359L121.99 361.2M123.36 359L123.36 361.2M124.52 359L124.52 361.2M125.52 359L125.52 361.2M126.41 359L126.41 361.2M145 359L145 362.4M132.91 359L132.91 361.2M135.95 359L135.95 361.2M138.12 359L138.12 361.2M139.79 359L139.79 361.2M141.16 359L141.16 361.2M142.32 359L142.32 361.2M143.32 359L143.32 361.2M144.21 359L144.21 361.2M162.3 359L162.3 362.4M150.21 359L150.21 361.2M153.25 359L153.25 361.2M155.42 359L155.42 361.2M157.09 359L157.09 361.2M158.46 359L158.46 361.2M159.62 359L159.62 361.2M160.62 359L160.62 361.2M161.51 359L161.51 361.2" stroke="#000" stroke-width="0.7"/>
<text transform="translate(95.6 311.32) scale(1 1)" font-size="5.9" text-anchor="end" fill="#111" stroke="#000" stroke-width="0.22">10<tspan font-size="65%" dy="-2.48">4</tspan></text>
<text transform="translate(95.6 330.42) scale(1 1)" font-size="5.9" text-anchor="end" fill="#111" stroke="#000" stroke-width="0.22">10<tspan font-size="65%" dy="-2.48">3</tspan></text>
<text transform="translate(95.6 349.72) scale(1 1)" font-size="5.9" text-anchor="end" fill="#111" stroke="#000" stroke-width="0.22">10<tspan font-size="65%" dy="-2.48">2</tspan></text>
<text transform="translate(110.3 368.4) scale(1 1)" font-size="5.9" text-anchor="middle" fill="#111" stroke="#000" stroke-width="0.22">10<tspan font-size="65%" dy="-2.48">2</tspan></text>
<text transform="translate(127.2 368.4) scale(1 1)" font-size="5.9" text-anchor="middle" fill="#111" stroke="#000" stroke-width="0.22">10<tspan font-size="65%" dy="-2.48">3</tspan></text>
<text transform="translate(145 368.4) scale(1 1)" font-size="5.9" text-anchor="middle" fill="#111" stroke="#000" stroke-width="0.22">10<tspan font-size="65%" dy="-2.48">4</tspan></text>
<text transform="translate(162.3 368.4) scale(1 1)" font-size="5.9" text-anchor="middle" fill="#111" stroke="#000" stroke-width="0.22">10<tspan font-size="65%" dy="-2.48">5</tspan></text>
<rect x="123.3" y="293.8" width="41.8" height="40.2" fill="none" stroke="#111" stroke-width="1.25"/>
<text x="132.4" y="308.4" font-size="8.6" font-weight="bold">61.2%</text>
<rect x="183.4" y="291.6" width="67.5" height="67.4" fill="none" stroke="#111" stroke-width="0.85"/>
<path d="M179.8 309.2L183.4 309.2M181.2 322.62L183.4 322.62M181.2 319.24L183.4 319.24M181.2 316.84L183.4 316.84M181.2 314.98L183.4 314.98M181.2 313.46L183.4 313.46M181.2 312.17L183.4 312.17M181.2 311.06L183.4 311.06M181.2 310.08L183.4 310.08M179.8 328.3L183.4 328.3M181.2 341.72L183.4 341.72M181.2 338.34L183.4 338.34M181.2 335.94L183.4 335.94M181.2 334.08L183.4 334.08M181.2 332.56L183.4 332.56M181.2 331.27L183.4 331.27M181.2 330.16L183.4 330.16M181.2 329.18L183.4 329.18M179.8 347.6L183.4 347.6M181.2 357.64L183.4 357.64M181.2 355.24L183.4 355.24M181.2 353.38L183.4 353.38M181.2 351.86L183.4 351.86M181.2 350.57L183.4 350.57M181.2 349.46L183.4 349.46M181.2 348.48L183.4 348.48M181.2 303.42L183.4 303.42M181.2 300.04L183.4 300.04M181.2 297.64L183.4 297.64M181.2 295.78L183.4 295.78M181.2 294.26L183.4 294.26M181.2 292.97L183.4 292.97M194.7 359L194.7 362.4M185.65 359L185.65 361.2M187.82 359L187.82 361.2M189.49 359L189.49 361.2M190.86 359L190.86 361.2M192.02 359L192.02 361.2M193.02 359L193.02 361.2M193.91 359L193.91 361.2M211.6 359L211.6 362.4M199.51 359L199.51 361.2M202.55 359L202.55 361.2M204.72 359L204.72 361.2M206.39 359L206.39 361.2M207.76 359L207.76 361.2M208.92 359L208.92 361.2M209.92 359L209.92 361.2M210.81 359L210.81 361.2M229.4 359L229.4 362.4M217.31 359L217.31 361.2M220.35 359L220.35 361.2M222.52 359L222.52 361.2M224.19 359L224.19 361.2M225.56 359L225.56 361.2M226.72 359L226.72 361.2M227.72 359L227.72 361.2M228.61 359L228.61 361.2M246.7 359L246.7 362.4M234.61 359L234.61 361.2M237.65 359L237.65 361.2M239.82 359L239.82 361.2M241.49 359L241.49 361.2M242.86 359L242.86 361.2M244.02 359L244.02 361.2M245.02 359L245.02 361.2M245.91 359L245.91 361.2" stroke="#000" stroke-width="0.7"/>
<text transform="translate(180 311.32) scale(1 1)" font-size="5.9" text-anchor="end" fill="#111" stroke="#000" stroke-width="0.22">10<tspan font-size="65%" dy="-2.48">4</tspan></text>
<text transform="translate(180 330.42) scale(1 1)" font-size="5.9" text-anchor="end" fill="#111" stroke="#000" stroke-width="0.22">10<tspan font-size="65%" dy="-2.48">3</tspan></text>
<text transform="translate(180 349.72) scale(1 1)" font-size="5.9" text-anchor="end" fill="#111" stroke="#000" stroke-width="0.22">10<tspan font-size="65%" dy="-2.48">2</tspan></text>
<text transform="translate(194.7 368.4) scale(1 1)" font-size="5.9" text-anchor="middle" fill="#111" stroke="#000" stroke-width="0.22">10<tspan font-size="65%" dy="-2.48">2</tspan></text>
<text transform="translate(211.6 368.4) scale(1 1)" font-size="5.9" text-anchor="middle" fill="#111" stroke="#000" stroke-width="0.22">10<tspan font-size="65%" dy="-2.48">3</tspan></text>
<text transform="translate(229.4 368.4) scale(1 1)" font-size="5.9" text-anchor="middle" fill="#111" stroke="#000" stroke-width="0.22">10<tspan font-size="65%" dy="-2.48">4</tspan></text>
<text transform="translate(246.7 368.4) scale(1 1)" font-size="5.9" text-anchor="middle" fill="#111" stroke="#000" stroke-width="0.22">10<tspan font-size="65%" dy="-2.48">5</tspan></text>
<rect x="206.7" y="294.5" width="42.3" height="39.6" fill="none" stroke="#111" stroke-width="1.25"/>
<text x="216.4" y="308.4" font-size="8.6" font-weight="bold">36.6%</text>
<rect x="99" y="383" width="67.5" height="67.4" fill="none" stroke="#111" stroke-width="0.85"/>
<path d="M95.4 400.6L99 400.6M96.8 414.02L99 414.02M96.8 410.64L99 410.64M96.8 408.24L99 408.24M96.8 406.38L99 406.38M96.8 404.86L99 404.86M96.8 403.57L99 403.57M96.8 402.46L99 402.46M96.8 401.48L99 401.48M95.4 419.7L99 419.7M96.8 433.12L99 433.12M96.8 429.74L99 429.74M96.8 427.34L99 427.34M96.8 425.48L99 425.48M96.8 423.96L99 423.96M96.8 422.67L99 422.67M96.8 421.56L99 421.56M96.8 420.58L99 420.58M95.4 439L99 439M96.8 449.04L99 449.04M96.8 446.64L99 446.64M96.8 444.78L99 444.78M96.8 443.26L99 443.26M96.8 441.97L99 441.97M96.8 440.86L99 440.86M96.8 439.88L99 439.88M96.8 394.82L99 394.82M96.8 391.44L99 391.44M96.8 389.04L99 389.04M96.8 387.18L99 387.18M96.8 385.66L99 385.66M96.8 384.37L99 384.37M110.3 450.4L110.3 453.8M101.25 450.4L101.25 452.6M103.42 450.4L103.42 452.6M105.09 450.4L105.09 452.6M106.46 450.4L106.46 452.6M107.62 450.4L107.62 452.6M108.62 450.4L108.62 452.6M109.51 450.4L109.51 452.6M127.2 450.4L127.2 453.8M115.11 450.4L115.11 452.6M118.15 450.4L118.15 452.6M120.32 450.4L120.32 452.6M121.99 450.4L121.99 452.6M123.36 450.4L123.36 452.6M124.52 450.4L124.52 452.6M125.52 450.4L125.52 452.6M126.41 450.4L126.41 452.6M145 450.4L145 453.8M132.91 450.4L132.91 452.6M135.95 450.4L135.95 452.6M138.12 450.4L138.12 452.6M139.79 450.4L139.79 452.6M141.16 450.4L141.16 452.6M142.32 450.4L142.32 452.6M143.32 450.4L143.32 452.6M144.21 450.4L144.21 452.6M162.3 450.4L162.3 453.8M150.21 450.4L150.21 452.6M153.25 450.4L153.25 452.6M155.42 450.4L155.42 452.6M157.09 450.4L157.09 452.6M158.46 450.4L158.46 452.6M159.62 450.4L159.62 452.6M160.62 450.4L160.62 452.6M161.51 450.4L161.51 452.6" stroke="#000" stroke-width="0.7"/>
<text transform="translate(95.6 402.72) scale(1 1)" font-size="5.9" text-anchor="end" fill="#111" stroke="#000" stroke-width="0.22">10<tspan font-size="65%" dy="-2.48">4</tspan></text>
<text transform="translate(95.6 421.82) scale(1 1)" font-size="5.9" text-anchor="end" fill="#111" stroke="#000" stroke-width="0.22">10<tspan font-size="65%" dy="-2.48">3</tspan></text>
<text transform="translate(95.6 441.12) scale(1 1)" font-size="5.9" text-anchor="end" fill="#111" stroke="#000" stroke-width="0.22">10<tspan font-size="65%" dy="-2.48">2</tspan></text>
<text transform="translate(110.3 459.8) scale(1 1)" font-size="5.9" text-anchor="middle" fill="#111" stroke="#000" stroke-width="0.22">10<tspan font-size="65%" dy="-2.48">2</tspan></text>
<text transform="translate(127.2 459.8) scale(1 1)" font-size="5.9" text-anchor="middle" fill="#111" stroke="#000" stroke-width="0.22">10<tspan font-size="65%" dy="-2.48">3</tspan></text>
<text transform="translate(145 459.8) scale(1 1)" font-size="5.9" text-anchor="middle" fill="#111" stroke="#000" stroke-width="0.22">10<tspan font-size="65%" dy="-2.48">4</tspan></text>
<text transform="translate(162.3 459.8) scale(1 1)" font-size="5.9" text-anchor="middle" fill="#111" stroke="#000" stroke-width="0.22">10<tspan font-size="65%" dy="-2.48">5</tspan></text>
<rect x="123.3" y="387.3" width="41.8" height="38.9" fill="none" stroke="#111" stroke-width="1.25"/>
<text x="132.4" y="400.3" font-size="8.6" font-weight="bold">25.7%</text>
<rect x="183.4" y="383" width="67.5" height="67.4" fill="none" stroke="#111" stroke-width="0.85"/>
<path d="M179.8 400.6L183.4 400.6M181.2 414.02L183.4 414.02M181.2 410.64L183.4 410.64M181.2 408.24L183.4 408.24M181.2 406.38L183.4 406.38M181.2 404.86L183.4 404.86M181.2 403.57L183.4 403.57M181.2 402.46L183.4 402.46M181.2 401.48L183.4 401.48M179.8 419.7L183.4 419.7M181.2 433.12L183.4 433.12M181.2 429.74L183.4 429.74M181.2 427.34L183.4 427.34M181.2 425.48L183.4 425.48M181.2 423.96L183.4 423.96M181.2 422.67L183.4 422.67M181.2 421.56L183.4 421.56M181.2 420.58L183.4 420.58M179.8 439L183.4 439M181.2 449.04L183.4 449.04M181.2 446.64L183.4 446.64M181.2 444.78L183.4 444.78M181.2 443.26L183.4 443.26M181.2 441.97L183.4 441.97M181.2 440.86L183.4 440.86M181.2 439.88L183.4 439.88M181.2 394.82L183.4 394.82M181.2 391.44L183.4 391.44M181.2 389.04L183.4 389.04M181.2 387.18L183.4 387.18M181.2 385.66L183.4 385.66M181.2 384.37L183.4 384.37M194.7 450.4L194.7 453.8M185.65 450.4L185.65 452.6M187.82 450.4L187.82 452.6M189.49 450.4L189.49 452.6M190.86 450.4L190.86 452.6M192.02 450.4L192.02 452.6M193.02 450.4L193.02 452.6M193.91 450.4L193.91 452.6M211.6 450.4L211.6 453.8M199.51 450.4L199.51 452.6M202.55 450.4L202.55 452.6M204.72 450.4L204.72 452.6M206.39 450.4L206.39 452.6M207.76 450.4L207.76 452.6M208.92 450.4L208.92 452.6M209.92 450.4L209.92 452.6M210.81 450.4L210.81 452.6M229.4 450.4L229.4 453.8M217.31 450.4L217.31 452.6M220.35 450.4L220.35 452.6M222.52 450.4L222.52 452.6M224.19 450.4L224.19 452.6M225.56 450.4L225.56 452.6M226.72 450.4L226.72 452.6M227.72 450.4L227.72 452.6M228.61 450.4L228.61 452.6M246.7 450.4L246.7 453.8M234.61 450.4L234.61 452.6M237.65 450.4L237.65 452.6M239.82 450.4L239.82 452.6M241.49 450.4L241.49 452.6M242.86 450.4L242.86 452.6M244.02 450.4L244.02 452.6M245.02 450.4L245.02 452.6M245.91 450.4L245.91 452.6" stroke="#000" stroke-width="0.7"/>
<text transform="translate(180 402.72) scale(1 1)" font-size="5.9" text-anchor="end" fill="#111" stroke="#000" stroke-width="0.22">10<tspan font-size="65%" dy="-2.48">4</tspan></text>
<text transform="translate(180 421.82) scale(1 1)" font-size="5.9" text-anchor="end" fill="#111" stroke="#000" stroke-width="0.22">10<tspan font-size="65%" dy="-2.48">3</tspan></text>
<text transform="translate(180 441.12) scale(1 1)" font-size="5.9" text-anchor="end" fill="#111" stroke="#000" stroke-width="0.22">10<tspan font-size="65%" dy="-2.48">2</tspan></text>
<text transform="translate(194.7 459.8) scale(1 1)" font-size="5.9" text-anchor="middle" fill="#111" stroke="#000" stroke-width="0.22">10<tspan font-size="65%" dy="-2.48">2</tspan></text>
<text transform="translate(211.6 459.8) scale(1 1)" font-size="5.9" text-anchor="middle" fill="#111" stroke="#000" stroke-width="0.22">10<tspan font-size="65%" dy="-2.48">3</tspan></text>
<text transform="translate(229.4 459.8) scale(1 1)" font-size="5.9" text-anchor="middle" fill="#111" stroke="#000" stroke-width="0.22">10<tspan font-size="65%" dy="-2.48">4</tspan></text>
<text transform="translate(246.7 459.8) scale(1 1)" font-size="5.9" text-anchor="middle" fill="#111" stroke="#000" stroke-width="0.22">10<tspan font-size="65%" dy="-2.48">5</tspan></text>
<rect x="207.7" y="386.8" width="42.3" height="39.4" fill="none" stroke="#111" stroke-width="1.25"/>
<text x="217.6" y="400.3" font-size="8.6" font-weight="bold">27.4%</text>
<rect x="99" y="521.6" width="67.5" height="67.4" fill="none" stroke="#111" stroke-width="0.85"/>
<path d="M95.4 539.2L99 539.2M96.8 552.62L99 552.62M96.8 549.24L99 549.24M96.8 546.84L99 546.84M96.8 544.98L99 544.98M96.8 543.46L99 543.46M96.8 542.17L99 542.17M96.8 541.06L99 541.06M96.8 540.08L99 540.08M95.4 558.3L99 558.3M96.8 571.72L99 571.72M96.8 568.34L99 568.34M96.8 565.94L99 565.94M96.8 564.08L99 564.08M96.8 562.56L99 562.56M96.8 561.27L99 561.27M96.8 560.16L99 560.16M96.8 559.18L99 559.18M95.4 577.6L99 577.6M96.8 587.64L99 587.64M96.8 585.24L99 585.24M96.8 583.38L99 583.38M96.8 581.86L99 581.86M96.8 580.57L99 580.57M96.8 579.46L99 579.46M96.8 578.48L99 578.48M96.8 533.42L99 533.42M96.8 530.04L99 530.04M96.8 527.64L99 527.64M96.8 525.78L99 525.78M96.8 524.26L99 524.26M96.8 522.97L99 522.97M110.3 589L110.3 592.4M101.25 589L101.25 591.2M103.42 589L103.42 591.2M105.09 589L105.09 591.2M106.46 589L106.46 591.2M107.62 589L107.62 591.2M108.62 589L108.62 591.2M109.51 589L109.51 591.2M127.2 589L127.2 592.4M115.11 589L115.11 591.2M118.15 589L118.15 591.2M120.32 589L120.32 591.2M121.99 589L121.99 591.2M123.36 589L123.36 591.2M124.52 589L124.52 591.2M125.52 589L125.52 591.2M126.41 589L126.41 591.2M145 589L145 592.4M132.91 589L132.91 591.2M135.95 589L135.95 591.2M138.12 589L138.12 591.2M139.79 589L139.79 591.2M141.16 589L141.16 591.2M142.32 589L142.32 591.2M143.32 589L143.32 591.2M144.21 589L144.21 591.2M162.3 589L162.3 592.4M150.21 589L150.21 591.2M153.25 589L153.25 591.2M155.42 589L155.42 591.2M157.09 589L157.09 591.2M158.46 589L158.46 591.2M159.62 589L159.62 591.2M160.62 589L160.62 591.2M161.51 589L161.51 591.2" stroke="#000" stroke-width="0.7"/>
<text transform="translate(95.6 541.32) scale(1 1)" font-size="5.9" text-anchor="end" fill="#111" stroke="#000" stroke-width="0.22">10<tspan font-size="65%" dy="-2.48">4</tspan></text>
<text transform="translate(95.6 560.42) scale(1 1)" font-size="5.9" text-anchor="end" fill="#111" stroke="#000" stroke-width="0.22">10<tspan font-size="65%" dy="-2.48">3</tspan></text>
<text transform="translate(95.6 579.72) scale(1 1)" font-size="5.9" text-anchor="end" fill="#111" stroke="#000" stroke-width="0.22">10<tspan font-size="65%" dy="-2.48">2</tspan></text>
<text transform="translate(110.3 598.4) scale(1 1)" font-size="5.9" text-anchor="middle" fill="#111" stroke="#000" stroke-width="0.22">10<tspan font-size="65%" dy="-2.48">2</tspan></text>
<text transform="translate(127.2 598.4) scale(1 1)" font-size="5.9" text-anchor="middle" fill="#111" stroke="#000" stroke-width="0.22">10<tspan font-size="65%" dy="-2.48">3</tspan></text>
<text transform="translate(145 598.4) scale(1 1)" font-size="5.9" text-anchor="middle" fill="#111" stroke="#000" stroke-width="0.22">10<tspan font-size="65%" dy="-2.48">4</tspan></text>
<text transform="translate(162.3 598.4) scale(1 1)" font-size="5.9" text-anchor="middle" fill="#111" stroke="#000" stroke-width="0.22">10<tspan font-size="65%" dy="-2.48">5</tspan></text>
<rect x="126.4" y="524.5" width="38.6" height="26.5" fill="none" stroke="#111" stroke-width="1.25"/>
<text x="132.4" y="534" font-size="8.6" font-weight="bold">0.004%</text>
<rect x="183.4" y="521.6" width="67.5" height="67.4" fill="none" stroke="#111" stroke-width="0.85"/>
<path d="M179.8 539.2L183.4 539.2M181.2 552.62L183.4 552.62M181.2 549.24L183.4 549.24M181.2 546.84L183.4 546.84M181.2 544.98L183.4 544.98M181.2 543.46L183.4 543.46M181.2 542.17L183.4 542.17M181.2 541.06L183.4 541.06M181.2 540.08L183.4 540.08M179.8 558.3L183.4 558.3M181.2 571.72L183.4 571.72M181.2 568.34L183.4 568.34M181.2 565.94L183.4 565.94M181.2 564.08L183.4 564.08M181.2 562.56L183.4 562.56M181.2 561.27L183.4 561.27M181.2 560.16L183.4 560.16M181.2 559.18L183.4 559.18M179.8 577.6L183.4 577.6M181.2 587.64L183.4 587.64M181.2 585.24L183.4 585.24M181.2 583.38L183.4 583.38M181.2 581.86L183.4 581.86M181.2 580.57L183.4 580.57M181.2 579.46L183.4 579.46M181.2 578.48L183.4 578.48M181.2 533.42L183.4 533.42M181.2 530.04L183.4 530.04M181.2 527.64L183.4 527.64M181.2 525.78L183.4 525.78M181.2 524.26L183.4 524.26M181.2 522.97L183.4 522.97M194.7 589L194.7 592.4M185.65 589L185.65 591.2M187.82 589L187.82 591.2M189.49 589L189.49 591.2M190.86 589L190.86 591.2M192.02 589L192.02 591.2M193.02 589L193.02 591.2M193.91 589L193.91 591.2M211.6 589L211.6 592.4M199.51 589L199.51 591.2M202.55 589L202.55 591.2M204.72 589L204.72 591.2M206.39 589L206.39 591.2M207.76 589L207.76 591.2M208.92 589L208.92 591.2M209.92 589L209.92 591.2M210.81 589L210.81 591.2M229.4 589L229.4 592.4M217.31 589L217.31 591.2M220.35 589L220.35 591.2M222.52 589L222.52 591.2M224.19 589L224.19 591.2M225.56 589L225.56 591.2M226.72 589L226.72 591.2M227.72 589L227.72 591.2M228.61 589L228.61 591.2M246.7 589L246.7 592.4M234.61 589L234.61 591.2M237.65 589L237.65 591.2M239.82 589L239.82 591.2M241.49 589L241.49 591.2M242.86 589L242.86 591.2M244.02 589L244.02 591.2M245.02 589L245.02 591.2M245.91 589L245.91 591.2" stroke="#000" stroke-width="0.7"/>
<text transform="translate(180 541.32) scale(1 1)" font-size="5.9" text-anchor="end" fill="#111" stroke="#000" stroke-width="0.22">10<tspan font-size="65%" dy="-2.48">4</tspan></text>
<text transform="translate(180 560.42) scale(1 1)" font-size="5.9" text-anchor="end" fill="#111" stroke="#000" stroke-width="0.22">10<tspan font-size="65%" dy="-2.48">3</tspan></text>
<text transform="translate(180 579.72) scale(1 1)" font-size="5.9" text-anchor="end" fill="#111" stroke="#000" stroke-width="0.22">10<tspan font-size="65%" dy="-2.48">2</tspan></text>
<text transform="translate(194.7 598.4) scale(1 1)" font-size="5.9" text-anchor="middle" fill="#111" stroke="#000" stroke-width="0.22">10<tspan font-size="65%" dy="-2.48">2</tspan></text>
<text transform="translate(211.6 598.4) scale(1 1)" font-size="5.9" text-anchor="middle" fill="#111" stroke="#000" stroke-width="0.22">10<tspan font-size="65%" dy="-2.48">3</tspan></text>
<text transform="translate(229.4 598.4) scale(1 1)" font-size="5.9" text-anchor="middle" fill="#111" stroke="#000" stroke-width="0.22">10<tspan font-size="65%" dy="-2.48">4</tspan></text>
<text transform="translate(246.7 598.4) scale(1 1)" font-size="5.9" text-anchor="middle" fill="#111" stroke="#000" stroke-width="0.22">10<tspan font-size="65%" dy="-2.48">5</tspan></text>
<rect x="210.5" y="524.5" width="38.6" height="26.5" fill="none" stroke="#111" stroke-width="1.25"/>
<text x="218.8" y="534" font-size="8.6" font-weight="bold">0.074%</text>
<rect x="99" y="612.7" width="67.5" height="67.4" fill="none" stroke="#111" stroke-width="0.85"/>
<path d="M95.4 630.3L99 630.3M96.8 643.72L99 643.72M96.8 640.34L99 640.34M96.8 637.94L99 637.94M96.8 636.08L99 636.08M96.8 634.56L99 634.56M96.8 633.27L99 633.27M96.8 632.16L99 632.16M96.8 631.18L99 631.18M95.4 649.4L99 649.4M96.8 662.82L99 662.82M96.8 659.44L99 659.44M96.8 657.04L99 657.04M96.8 655.18L99 655.18M96.8 653.66L99 653.66M96.8 652.37L99 652.37M96.8 651.26L99 651.26M96.8 650.28L99 650.28M95.4 668.7L99 668.7M96.8 678.74L99 678.74M96.8 676.34L99 676.34M96.8 674.48L99 674.48M96.8 672.96L99 672.96M96.8 671.67L99 671.67M96.8 670.56L99 670.56M96.8 669.58L99 669.58M96.8 624.52L99 624.52M96.8 621.14L99 621.14M96.8 618.74L99 618.74M96.8 616.88L99 616.88M96.8 615.36L99 615.36M96.8 614.07L99 614.07M110.3 680.1L110.3 683.5M101.25 680.1L101.25 682.3M103.42 680.1L103.42 682.3M105.09 680.1L105.09 682.3M106.46 680.1L106.46 682.3M107.62 680.1L107.62 682.3M108.62 680.1L108.62 682.3M109.51 680.1L109.51 682.3M127.2 680.1L127.2 683.5M115.11 680.1L115.11 682.3M118.15 680.1L118.15 682.3M120.32 680.1L120.32 682.3M121.99 680.1L121.99 682.3M123.36 680.1L123.36 682.3M124.52 680.1L124.52 682.3M125.52 680.1L125.52 682.3M126.41 680.1L126.41 682.3M145 680.1L145 683.5M132.91 680.1L132.91 682.3M135.95 680.1L135.95 682.3M138.12 680.1L138.12 682.3M139.79 680.1L139.79 682.3M141.16 680.1L141.16 682.3M142.32 680.1L142.32 682.3M143.32 680.1L143.32 682.3M144.21 680.1L144.21 682.3M162.3 680.1L162.3 683.5M150.21 680.1L150.21 682.3M153.25 680.1L153.25 682.3M155.42 680.1L155.42 682.3M157.09 680.1L157.09 682.3M158.46 680.1L158.46 682.3M159.62 680.1L159.62 682.3M160.62 680.1L160.62 682.3M161.51 680.1L161.51 682.3" stroke="#000" stroke-width="0.7"/>
<text transform="translate(95.6 632.42) scale(1 1)" font-size="5.9" text-anchor="end" fill="#111" stroke="#000" stroke-width="0.22">10<tspan font-size="65%" dy="-2.48">4</tspan></text>
<text transform="translate(95.6 651.52) scale(1 1)" font-size="5.9" text-anchor="end" fill="#111" stroke="#000" stroke-width="0.22">10<tspan font-size="65%" dy="-2.48">3</tspan></text>
<text transform="translate(95.6 670.82) scale(1 1)" font-size="5.9" text-anchor="end" fill="#111" stroke="#000" stroke-width="0.22">10<tspan font-size="65%" dy="-2.48">2</tspan></text>
<text transform="translate(110.3 689.5) scale(1 1)" font-size="5.9" text-anchor="middle" fill="#111" stroke="#000" stroke-width="0.22">10<tspan font-size="65%" dy="-2.48">2</tspan></text>
<text transform="translate(127.2 689.5) scale(1 1)" font-size="5.9" text-anchor="middle" fill="#111" stroke="#000" stroke-width="0.22">10<tspan font-size="65%" dy="-2.48">3</tspan></text>
<text transform="translate(145 689.5) scale(1 1)" font-size="5.9" text-anchor="middle" fill="#111" stroke="#000" stroke-width="0.22">10<tspan font-size="65%" dy="-2.48">4</tspan></text>
<text transform="translate(162.3 689.5) scale(1 1)" font-size="5.9" text-anchor="middle" fill="#111" stroke="#000" stroke-width="0.22">10<tspan font-size="65%" dy="-2.48">5</tspan></text>
<rect x="126.4" y="615.3" width="38.6" height="26.8" fill="none" stroke="#111" stroke-width="1.25"/>
<text x="131.9" y="623.6" font-size="8.6" font-weight="bold">0.140%</text>
<rect x="183.4" y="612.7" width="67.5" height="67.4" fill="none" stroke="#111" stroke-width="0.85"/>
<path d="M179.8 630.3L183.4 630.3M181.2 643.72L183.4 643.72M181.2 640.34L183.4 640.34M181.2 637.94L183.4 637.94M181.2 636.08L183.4 636.08M181.2 634.56L183.4 634.56M181.2 633.27L183.4 633.27M181.2 632.16L183.4 632.16M181.2 631.18L183.4 631.18M179.8 649.4L183.4 649.4M181.2 662.82L183.4 662.82M181.2 659.44L183.4 659.44M181.2 657.04L183.4 657.04M181.2 655.18L183.4 655.18M181.2 653.66L183.4 653.66M181.2 652.37L183.4 652.37M181.2 651.26L183.4 651.26M181.2 650.28L183.4 650.28M179.8 668.7L183.4 668.7M181.2 678.74L183.4 678.74M181.2 676.34L183.4 676.34M181.2 674.48L183.4 674.48M181.2 672.96L183.4 672.96M181.2 671.67L183.4 671.67M181.2 670.56L183.4 670.56M181.2 669.58L183.4 669.58M181.2 624.52L183.4 624.52M181.2 621.14L183.4 621.14M181.2 618.74L183.4 618.74M181.2 616.88L183.4 616.88M181.2 615.36L183.4 615.36M181.2 614.07L183.4 614.07M194.7 680.1L194.7 683.5M185.65 680.1L185.65 682.3M187.82 680.1L187.82 682.3M189.49 680.1L189.49 682.3M190.86 680.1L190.86 682.3M192.02 680.1L192.02 682.3M193.02 680.1L193.02 682.3M193.91 680.1L193.91 682.3M211.6 680.1L211.6 683.5M199.51 680.1L199.51 682.3M202.55 680.1L202.55 682.3M204.72 680.1L204.72 682.3M206.39 680.1L206.39 682.3M207.76 680.1L207.76 682.3M208.92 680.1L208.92 682.3M209.92 680.1L209.92 682.3M210.81 680.1L210.81 682.3M229.4 680.1L229.4 683.5M217.31 680.1L217.31 682.3M220.35 680.1L220.35 682.3M222.52 680.1L222.52 682.3M224.19 680.1L224.19 682.3M225.56 680.1L225.56 682.3M226.72 680.1L226.72 682.3M227.72 680.1L227.72 682.3M228.61 680.1L228.61 682.3M246.7 680.1L246.7 683.5M234.61 680.1L234.61 682.3M237.65 680.1L237.65 682.3M239.82 680.1L239.82 682.3M241.49 680.1L241.49 682.3M242.86 680.1L242.86 682.3M244.02 680.1L244.02 682.3M245.02 680.1L245.02 682.3M245.91 680.1L245.91 682.3" stroke="#000" stroke-width="0.7"/>
<text transform="translate(180 632.42) scale(1 1)" font-size="5.9" text-anchor="end" fill="#111" stroke="#000" stroke-width="0.22">10<tspan font-size="65%" dy="-2.48">4</tspan></text>
<text transform="translate(180 651.52) scale(1 1)" font-size="5.9" text-anchor="end" fill="#111" stroke="#000" stroke-width="0.22">10<tspan font-size="65%" dy="-2.48">3</tspan></text>
<text transform="translate(180 670.82) scale(1 1)" font-size="5.9" text-anchor="end" fill="#111" stroke="#000" stroke-width="0.22">10<tspan font-size="65%" dy="-2.48">2</tspan></text>
<text transform="translate(194.7 689.5) scale(1 1)" font-size="5.9" text-anchor="middle" fill="#111" stroke="#000" stroke-width="0.22">10<tspan font-size="65%" dy="-2.48">2</tspan></text>
<text transform="translate(211.6 689.5) scale(1 1)" font-size="5.9" text-anchor="middle" fill="#111" stroke="#000" stroke-width="0.22">10<tspan font-size="65%" dy="-2.48">3</tspan></text>
<text transform="translate(229.4 689.5) scale(1 1)" font-size="5.9" text-anchor="middle" fill="#111" stroke="#000" stroke-width="0.22">10<tspan font-size="65%" dy="-2.48">4</tspan></text>
<text transform="translate(246.7 689.5) scale(1 1)" font-size="5.9" text-anchor="middle" fill="#111" stroke="#000" stroke-width="0.22">10<tspan font-size="65%" dy="-2.48">5</tspan></text>
<rect x="210.5" y="615.3" width="38.6" height="26.8" fill="none" stroke="#111" stroke-width="1.25"/>
<text x="215" y="624" font-size="8.6" font-weight="bold">0.101%</text>
</svg></body></html>
